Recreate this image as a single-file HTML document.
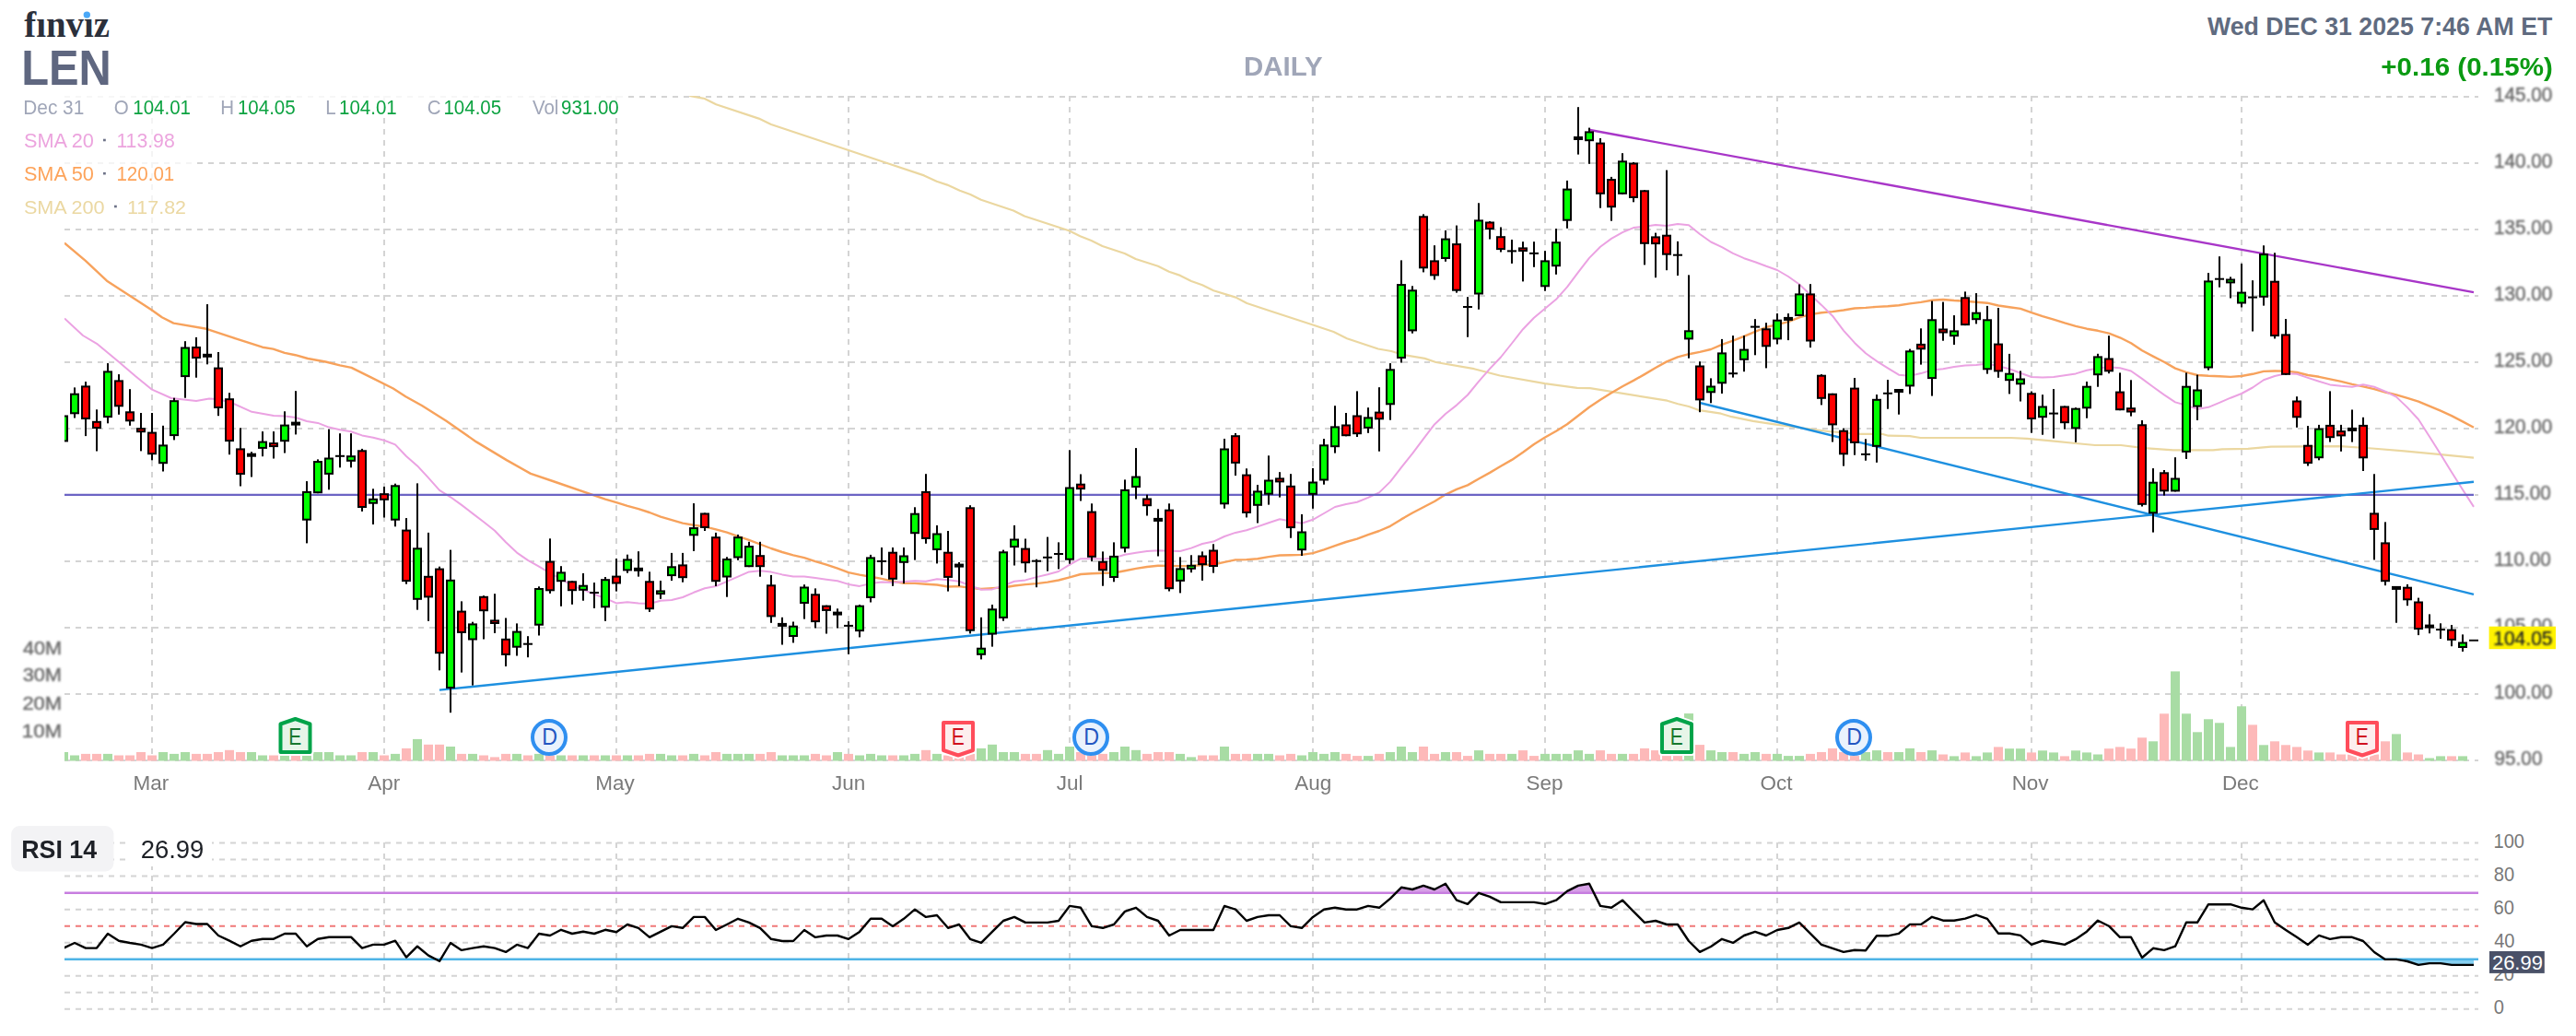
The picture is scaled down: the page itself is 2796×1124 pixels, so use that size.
<!DOCTYPE html><html><head><meta charset="utf-8"><style>html,body{margin:0;padding:0;background:#fff;overflow:hidden;width:2796px;height:1124px;}svg{display:block;}text{font-family:"Liberation Sans",sans-serif;}</style></head><body>
<svg width="2796" height="1124" viewBox="0 0 2796 1124">
<rect width="2796" height="1124" fill="#fff"/>
<defs><clipPath id="pc"><rect x="70" y="104" width="2620" height="722"/></clipPath><clipPath id="rc"><rect x="70" y="905" width="2620" height="200"/></clipPath></defs>
<line x1="70" y1="824.9" x2="2690" y2="824.9" stroke="#d4d4d4" stroke-width="2" stroke-dasharray="6 6"/>
<line x1="70" y1="752.9" x2="2690" y2="752.9" stroke="#d4d4d4" stroke-width="2" stroke-dasharray="6 6"/>
<line x1="70" y1="680.9" x2="2690" y2="680.9" stroke="#d4d4d4" stroke-width="2" stroke-dasharray="6 6"/>
<line x1="70" y1="608.9" x2="2690" y2="608.9" stroke="#d4d4d4" stroke-width="2" stroke-dasharray="6 6"/>
<line x1="70" y1="536.9" x2="2690" y2="536.9" stroke="#d4d4d4" stroke-width="2" stroke-dasharray="6 6"/>
<line x1="70" y1="464.9" x2="2690" y2="464.9" stroke="#d4d4d4" stroke-width="2" stroke-dasharray="6 6"/>
<line x1="70" y1="393.0" x2="2690" y2="393.0" stroke="#d4d4d4" stroke-width="2" stroke-dasharray="6 6"/>
<line x1="70" y1="321.0" x2="2690" y2="321.0" stroke="#d4d4d4" stroke-width="2" stroke-dasharray="6 6"/>
<line x1="70" y1="249.0" x2="2690" y2="249.0" stroke="#d4d4d4" stroke-width="2" stroke-dasharray="6 6"/>
<line x1="70" y1="177.0" x2="2690" y2="177.0" stroke="#d4d4d4" stroke-width="2" stroke-dasharray="6 6"/>
<line x1="70" y1="105.0" x2="2690" y2="105.0" stroke="#d4d4d4" stroke-width="2" stroke-dasharray="6 6"/>
<line x1="165" y1="104" x2="165" y2="826" stroke="#d4d4d4" stroke-width="2" stroke-dasharray="6 6"/>
<line x1="165" y1="914" x2="165" y2="1096" stroke="#d4d4d4" stroke-width="2" stroke-dasharray="6 6"/>
<line x1="417" y1="104" x2="417" y2="826" stroke="#d4d4d4" stroke-width="2" stroke-dasharray="6 6"/>
<line x1="417" y1="914" x2="417" y2="1096" stroke="#d4d4d4" stroke-width="2" stroke-dasharray="6 6"/>
<line x1="669" y1="104" x2="669" y2="826" stroke="#d4d4d4" stroke-width="2" stroke-dasharray="6 6"/>
<line x1="669" y1="914" x2="669" y2="1096" stroke="#d4d4d4" stroke-width="2" stroke-dasharray="6 6"/>
<line x1="921" y1="104" x2="921" y2="826" stroke="#d4d4d4" stroke-width="2" stroke-dasharray="6 6"/>
<line x1="921" y1="914" x2="921" y2="1096" stroke="#d4d4d4" stroke-width="2" stroke-dasharray="6 6"/>
<line x1="1161" y1="104" x2="1161" y2="826" stroke="#d4d4d4" stroke-width="2" stroke-dasharray="6 6"/>
<line x1="1161" y1="914" x2="1161" y2="1096" stroke="#d4d4d4" stroke-width="2" stroke-dasharray="6 6"/>
<line x1="1425" y1="104" x2="1425" y2="826" stroke="#d4d4d4" stroke-width="2" stroke-dasharray="6 6"/>
<line x1="1425" y1="914" x2="1425" y2="1096" stroke="#d4d4d4" stroke-width="2" stroke-dasharray="6 6"/>
<line x1="1677" y1="104" x2="1677" y2="826" stroke="#d4d4d4" stroke-width="2" stroke-dasharray="6 6"/>
<line x1="1677" y1="914" x2="1677" y2="1096" stroke="#d4d4d4" stroke-width="2" stroke-dasharray="6 6"/>
<line x1="1929" y1="104" x2="1929" y2="826" stroke="#d4d4d4" stroke-width="2" stroke-dasharray="6 6"/>
<line x1="1929" y1="914" x2="1929" y2="1096" stroke="#d4d4d4" stroke-width="2" stroke-dasharray="6 6"/>
<line x1="2205" y1="104" x2="2205" y2="826" stroke="#d4d4d4" stroke-width="2" stroke-dasharray="6 6"/>
<line x1="2205" y1="914" x2="2205" y2="1096" stroke="#d4d4d4" stroke-width="2" stroke-dasharray="6 6"/>
<line x1="2433" y1="104" x2="2433" y2="826" stroke="#d4d4d4" stroke-width="2" stroke-dasharray="6 6"/>
<line x1="2433" y1="914" x2="2433" y2="1096" stroke="#d4d4d4" stroke-width="2" stroke-dasharray="6 6"/>
<rect x="0" y="96" width="682" height="32" fill="#fff" fill-opacity="0.8"/>
<rect x="0" y="128" width="210" height="118" fill="#fff" fill-opacity="0.75"/>
<rect x="70.0" y="816.0" width="4.0" height="9.5" fill="#a8dca4"/>
<rect x="76.0" y="819.5" width="10.0" height="6.0" fill="#a8dca4"/>
<rect x="88.0" y="817.9" width="10.0" height="7.6" fill="#fdb9b9"/>
<rect x="100.0" y="817.9" width="10.0" height="7.6" fill="#fdb9b9"/>
<rect x="112.0" y="817.9" width="10.0" height="7.6" fill="#a8dca4"/>
<rect x="124.0" y="819.5" width="10.0" height="6.0" fill="#fdb9b9"/>
<rect x="136.0" y="819.5" width="10.0" height="6.0" fill="#fdb9b9"/>
<rect x="148.0" y="816.0" width="10.0" height="9.5" fill="#fdb9b9"/>
<rect x="160.0" y="819.5" width="10.0" height="6.0" fill="#fdb9b9"/>
<rect x="172.0" y="816.0" width="10.0" height="9.5" fill="#a8dca4"/>
<rect x="184.0" y="817.9" width="10.0" height="7.6" fill="#a8dca4"/>
<rect x="196.0" y="816.0" width="10.0" height="9.5" fill="#a8dca4"/>
<rect x="208.0" y="817.9" width="10.0" height="7.6" fill="#fdb9b9"/>
<rect x="220.0" y="817.9" width="10.0" height="7.6" fill="#fdb9b9"/>
<rect x="232.0" y="816.0" width="10.0" height="9.5" fill="#fdb9b9"/>
<rect x="244.0" y="813.8" width="10.0" height="11.7" fill="#fdb9b9"/>
<rect x="256.0" y="816.0" width="10.0" height="9.5" fill="#fdb9b9"/>
<rect x="268.0" y="816.0" width="10.0" height="9.5" fill="#a8dca4"/>
<rect x="280.0" y="819.5" width="10.0" height="6.0" fill="#a8dca4"/>
<rect x="292.0" y="819.5" width="10.0" height="6.0" fill="#fdb9b9"/>
<rect x="304.0" y="819.5" width="10.0" height="6.0" fill="#a8dca4"/>
<rect x="316.0" y="819.5" width="10.0" height="6.0" fill="#fdb9b9"/>
<rect x="328.0" y="819.5" width="10.0" height="6.0" fill="#a8dca4"/>
<rect x="340.0" y="816.0" width="10.0" height="9.5" fill="#a8dca4"/>
<rect x="352.0" y="816.0" width="10.0" height="9.5" fill="#a8dca4"/>
<rect x="364.0" y="819.5" width="10.0" height="6.0" fill="#a8dca4"/>
<rect x="376.0" y="819.5" width="10.0" height="6.0" fill="#a8dca4"/>
<rect x="388.0" y="816.0" width="10.0" height="9.5" fill="#fdb9b9"/>
<rect x="400.0" y="816.0" width="10.0" height="9.5" fill="#a8dca4"/>
<rect x="412.0" y="819.5" width="10.0" height="6.0" fill="#fdb9b9"/>
<rect x="424.0" y="817.9" width="10.0" height="7.6" fill="#a8dca4"/>
<rect x="436.0" y="811.9" width="10.0" height="13.6" fill="#fdb9b9"/>
<rect x="448.0" y="801.9" width="10.0" height="23.6" fill="#a8dca4"/>
<rect x="460.0" y="807.8" width="10.0" height="17.7" fill="#fdb9b9"/>
<rect x="472.0" y="807.8" width="10.0" height="17.7" fill="#fdb9b9"/>
<rect x="484.0" y="810.0" width="10.0" height="15.5" fill="#a8dca4"/>
<rect x="496.0" y="817.9" width="10.0" height="7.6" fill="#fdb9b9"/>
<rect x="508.0" y="817.9" width="10.0" height="7.6" fill="#a8dca4"/>
<rect x="520.0" y="819.5" width="10.0" height="6.0" fill="#fdb9b9"/>
<rect x="532.0" y="821.4" width="10.0" height="4.1" fill="#fdb9b9"/>
<rect x="544.0" y="817.9" width="10.0" height="7.6" fill="#fdb9b9"/>
<rect x="556.0" y="817.9" width="10.0" height="7.6" fill="#a8dca4"/>
<rect x="568.0" y="819.5" width="10.0" height="6.0" fill="#fdb9b9"/>
<rect x="580.0" y="817.9" width="10.0" height="7.6" fill="#a8dca4"/>
<rect x="592.0" y="819.5" width="10.0" height="6.0" fill="#fdb9b9"/>
<rect x="604.0" y="819.5" width="10.0" height="6.0" fill="#a8dca4"/>
<rect x="616.0" y="819.5" width="10.0" height="6.0" fill="#fdb9b9"/>
<rect x="628.0" y="819.5" width="10.0" height="6.0" fill="#a8dca4"/>
<rect x="640.0" y="819.5" width="10.0" height="6.0" fill="#fdb9b9"/>
<rect x="652.0" y="819.5" width="10.0" height="6.0" fill="#a8dca4"/>
<rect x="664.0" y="819.5" width="10.0" height="6.0" fill="#fdb9b9"/>
<rect x="676.0" y="819.5" width="10.0" height="6.0" fill="#a8dca4"/>
<rect x="688.0" y="819.5" width="10.0" height="6.0" fill="#fdb9b9"/>
<rect x="700.0" y="817.9" width="10.0" height="7.6" fill="#fdb9b9"/>
<rect x="712.0" y="817.9" width="10.0" height="7.6" fill="#a8dca4"/>
<rect x="724.0" y="819.5" width="10.0" height="6.0" fill="#a8dca4"/>
<rect x="736.0" y="819.5" width="10.0" height="6.0" fill="#fdb9b9"/>
<rect x="748.0" y="817.9" width="10.0" height="7.6" fill="#a8dca4"/>
<rect x="760.0" y="819.5" width="10.0" height="6.0" fill="#fdb9b9"/>
<rect x="772.0" y="816.0" width="10.0" height="9.5" fill="#fdb9b9"/>
<rect x="784.0" y="817.9" width="10.0" height="7.6" fill="#a8dca4"/>
<rect x="796.0" y="817.9" width="10.0" height="7.6" fill="#a8dca4"/>
<rect x="808.0" y="817.9" width="10.0" height="7.6" fill="#a8dca4"/>
<rect x="820.0" y="817.9" width="10.0" height="7.6" fill="#fdb9b9"/>
<rect x="832.0" y="816.0" width="10.0" height="9.5" fill="#fdb9b9"/>
<rect x="844.0" y="819.5" width="10.0" height="6.0" fill="#a8dca4"/>
<rect x="856.0" y="819.5" width="10.0" height="6.0" fill="#a8dca4"/>
<rect x="868.0" y="819.5" width="10.0" height="6.0" fill="#a8dca4"/>
<rect x="880.0" y="817.9" width="10.0" height="7.6" fill="#fdb9b9"/>
<rect x="892.0" y="819.5" width="10.0" height="6.0" fill="#fdb9b9"/>
<rect x="904.0" y="816.0" width="10.0" height="9.5" fill="#a8dca4"/>
<rect x="916.0" y="817.9" width="10.0" height="7.6" fill="#fdb9b9"/>
<rect x="928.0" y="819.5" width="10.0" height="6.0" fill="#a8dca4"/>
<rect x="940.0" y="817.9" width="10.0" height="7.6" fill="#a8dca4"/>
<rect x="952.0" y="819.5" width="10.0" height="6.0" fill="#a8dca4"/>
<rect x="964.0" y="819.5" width="10.0" height="6.0" fill="#fdb9b9"/>
<rect x="976.0" y="819.5" width="10.0" height="6.0" fill="#a8dca4"/>
<rect x="988.0" y="817.9" width="10.0" height="7.6" fill="#a8dca4"/>
<rect x="1000.0" y="813.8" width="10.0" height="11.7" fill="#fdb9b9"/>
<rect x="1012.0" y="817.9" width="10.0" height="7.6" fill="#a8dca4"/>
<rect x="1024.0" y="819.5" width="10.0" height="6.0" fill="#fdb9b9"/>
<rect x="1036.0" y="819.5" width="10.0" height="6.0" fill="#fdb9b9"/>
<rect x="1048.0" y="817.9" width="10.0" height="7.6" fill="#fdb9b9"/>
<rect x="1060.0" y="811.9" width="10.0" height="13.6" fill="#a8dca4"/>
<rect x="1072.0" y="807.8" width="10.0" height="17.7" fill="#a8dca4"/>
<rect x="1084.0" y="816.0" width="10.0" height="9.5" fill="#a8dca4"/>
<rect x="1096.0" y="816.0" width="10.0" height="9.5" fill="#a8dca4"/>
<rect x="1108.0" y="817.9" width="10.0" height="7.6" fill="#fdb9b9"/>
<rect x="1120.0" y="817.9" width="10.0" height="7.6" fill="#fdb9b9"/>
<rect x="1132.0" y="813.8" width="10.0" height="11.7" fill="#a8dca4"/>
<rect x="1144.0" y="817.9" width="10.0" height="7.6" fill="#a8dca4"/>
<rect x="1156.0" y="810.0" width="10.0" height="15.5" fill="#a8dca4"/>
<rect x="1168.0" y="816.0" width="10.0" height="9.5" fill="#fdb9b9"/>
<rect x="1180.0" y="817.9" width="10.0" height="7.6" fill="#fdb9b9"/>
<rect x="1192.0" y="817.9" width="10.0" height="7.6" fill="#fdb9b9"/>
<rect x="1204.0" y="816.0" width="10.0" height="9.5" fill="#a8dca4"/>
<rect x="1216.0" y="810.0" width="10.0" height="15.5" fill="#a8dca4"/>
<rect x="1228.0" y="813.8" width="10.0" height="11.7" fill="#a8dca4"/>
<rect x="1240.0" y="817.9" width="10.0" height="7.6" fill="#fdb9b9"/>
<rect x="1252.0" y="816.0" width="10.0" height="9.5" fill="#fdb9b9"/>
<rect x="1264.0" y="816.0" width="10.0" height="9.5" fill="#fdb9b9"/>
<rect x="1276.0" y="817.9" width="10.0" height="7.6" fill="#a8dca4"/>
<rect x="1288.0" y="821.4" width="10.0" height="4.1" fill="#a8dca4"/>
<rect x="1300.0" y="819.5" width="10.0" height="6.0" fill="#fdb9b9"/>
<rect x="1312.0" y="819.5" width="10.0" height="6.0" fill="#fdb9b9"/>
<rect x="1324.0" y="810.0" width="10.0" height="15.5" fill="#a8dca4"/>
<rect x="1336.0" y="817.9" width="10.0" height="7.6" fill="#fdb9b9"/>
<rect x="1348.0" y="817.9" width="10.0" height="7.6" fill="#fdb9b9"/>
<rect x="1360.0" y="817.9" width="10.0" height="7.6" fill="#a8dca4"/>
<rect x="1372.0" y="817.9" width="10.0" height="7.6" fill="#a8dca4"/>
<rect x="1384.0" y="819.5" width="10.0" height="6.0" fill="#fdb9b9"/>
<rect x="1396.0" y="817.9" width="10.0" height="7.6" fill="#fdb9b9"/>
<rect x="1408.0" y="819.5" width="10.0" height="6.0" fill="#a8dca4"/>
<rect x="1420.0" y="816.0" width="10.0" height="9.5" fill="#a8dca4"/>
<rect x="1432.0" y="817.9" width="10.0" height="7.6" fill="#a8dca4"/>
<rect x="1444.0" y="816.0" width="10.0" height="9.5" fill="#a8dca4"/>
<rect x="1456.0" y="817.9" width="10.0" height="7.6" fill="#fdb9b9"/>
<rect x="1468.0" y="820.1" width="10.0" height="5.4" fill="#fdb9b9"/>
<rect x="1480.0" y="820.1" width="10.0" height="5.4" fill="#a8dca4"/>
<rect x="1492.0" y="817.9" width="10.0" height="7.6" fill="#fdb9b9"/>
<rect x="1504.0" y="816.0" width="10.0" height="9.5" fill="#a8dca4"/>
<rect x="1516.0" y="810.0" width="10.0" height="15.5" fill="#a8dca4"/>
<rect x="1528.0" y="816.0" width="10.0" height="9.5" fill="#a8dca4"/>
<rect x="1540.0" y="810.0" width="10.0" height="15.5" fill="#fdb9b9"/>
<rect x="1552.0" y="817.9" width="10.0" height="7.6" fill="#fdb9b9"/>
<rect x="1564.0" y="816.0" width="10.0" height="9.5" fill="#a8dca4"/>
<rect x="1576.0" y="816.0" width="10.0" height="9.5" fill="#fdb9b9"/>
<rect x="1588.0" y="820.1" width="10.0" height="5.4" fill="#fdb9b9"/>
<rect x="1600.0" y="814.1" width="10.0" height="11.4" fill="#a8dca4"/>
<rect x="1612.0" y="817.9" width="10.0" height="7.6" fill="#fdb9b9"/>
<rect x="1624.0" y="817.9" width="10.0" height="7.6" fill="#fdb9b9"/>
<rect x="1636.0" y="817.9" width="10.0" height="7.6" fill="#a8dca4"/>
<rect x="1648.0" y="814.1" width="10.0" height="11.4" fill="#fdb9b9"/>
<rect x="1660.0" y="820.1" width="10.0" height="5.4" fill="#fdb9b9"/>
<rect x="1672.0" y="817.9" width="10.0" height="7.6" fill="#a8dca4"/>
<rect x="1684.0" y="817.9" width="10.0" height="7.6" fill="#a8dca4"/>
<rect x="1696.0" y="817.9" width="10.0" height="7.6" fill="#a8dca4"/>
<rect x="1708.0" y="814.1" width="10.0" height="11.4" fill="#a8dca4"/>
<rect x="1720.0" y="817.9" width="10.0" height="7.6" fill="#a8dca4"/>
<rect x="1732.0" y="814.1" width="10.0" height="11.4" fill="#fdb9b9"/>
<rect x="1744.0" y="817.9" width="10.0" height="7.6" fill="#fdb9b9"/>
<rect x="1756.0" y="817.9" width="10.0" height="7.6" fill="#a8dca4"/>
<rect x="1768.0" y="817.9" width="10.0" height="7.6" fill="#fdb9b9"/>
<rect x="1780.0" y="811.9" width="10.0" height="13.6" fill="#fdb9b9"/>
<rect x="1792.0" y="814.1" width="10.0" height="11.4" fill="#fdb9b9"/>
<rect x="1804.0" y="820.1" width="10.0" height="5.4" fill="#fdb9b9"/>
<rect x="1816.0" y="820.1" width="10.0" height="5.4" fill="#fdb9b9"/>
<rect x="1828.0" y="774.1" width="10.0" height="51.4" fill="#a8dca4"/>
<rect x="1840.0" y="808.1" width="10.0" height="17.4" fill="#fdb9b9"/>
<rect x="1852.0" y="814.1" width="10.0" height="11.4" fill="#a8dca4"/>
<rect x="1864.0" y="816.0" width="10.0" height="9.5" fill="#a8dca4"/>
<rect x="1876.0" y="816.0" width="10.0" height="9.5" fill="#fdb9b9"/>
<rect x="1888.0" y="817.9" width="10.0" height="7.6" fill="#a8dca4"/>
<rect x="1900.0" y="816.0" width="10.0" height="9.5" fill="#a8dca4"/>
<rect x="1912.0" y="817.9" width="10.0" height="7.6" fill="#fdb9b9"/>
<rect x="1924.0" y="817.9" width="10.0" height="7.6" fill="#a8dca4"/>
<rect x="1936.0" y="820.1" width="10.0" height="5.4" fill="#a8dca4"/>
<rect x="1948.0" y="820.1" width="10.0" height="5.4" fill="#a8dca4"/>
<rect x="1960.0" y="817.9" width="10.0" height="7.6" fill="#fdb9b9"/>
<rect x="1972.0" y="816.0" width="10.0" height="9.5" fill="#fdb9b9"/>
<rect x="1984.0" y="811.9" width="10.0" height="13.6" fill="#fdb9b9"/>
<rect x="1996.0" y="816.0" width="10.0" height="9.5" fill="#fdb9b9"/>
<rect x="2008.0" y="820.1" width="10.0" height="5.4" fill="#fdb9b9"/>
<rect x="2020.0" y="816.0" width="10.0" height="9.5" fill="#a8dca4"/>
<rect x="2032.0" y="814.1" width="10.0" height="11.4" fill="#a8dca4"/>
<rect x="2044.0" y="816.0" width="10.0" height="9.5" fill="#fdb9b9"/>
<rect x="2056.0" y="816.0" width="10.0" height="9.5" fill="#a8dca4"/>
<rect x="2068.0" y="811.9" width="10.0" height="13.6" fill="#a8dca4"/>
<rect x="2080.0" y="816.0" width="10.0" height="9.5" fill="#fdb9b9"/>
<rect x="2092.0" y="814.1" width="10.0" height="11.4" fill="#a8dca4"/>
<rect x="2104.0" y="818.5" width="10.0" height="7.0" fill="#fdb9b9"/>
<rect x="2116.0" y="820.4" width="10.0" height="5.1" fill="#a8dca4"/>
<rect x="2128.0" y="816.4" width="10.0" height="9.1" fill="#fdb9b9"/>
<rect x="2140.0" y="820.4" width="10.0" height="5.1" fill="#a8dca4"/>
<rect x="2152.0" y="816.4" width="10.0" height="9.1" fill="#a8dca4"/>
<rect x="2164.0" y="810.4" width="10.0" height="15.1" fill="#fdb9b9"/>
<rect x="2176.0" y="812.2" width="10.0" height="13.3" fill="#a8dca4"/>
<rect x="2188.0" y="812.2" width="10.0" height="13.3" fill="#a8dca4"/>
<rect x="2200.0" y="816.4" width="10.0" height="9.1" fill="#fdb9b9"/>
<rect x="2212.0" y="814.3" width="10.0" height="11.2" fill="#a8dca4"/>
<rect x="2224.0" y="816.4" width="10.0" height="9.1" fill="#a8dca4"/>
<rect x="2236.0" y="820.4" width="10.0" height="5.1" fill="#fdb9b9"/>
<rect x="2248.0" y="814.3" width="10.0" height="11.2" fill="#a8dca4"/>
<rect x="2260.0" y="816.4" width="10.0" height="9.1" fill="#a8dca4"/>
<rect x="2272.0" y="818.5" width="10.0" height="7.0" fill="#a8dca4"/>
<rect x="2284.0" y="812.2" width="10.0" height="13.3" fill="#fdb9b9"/>
<rect x="2296.0" y="810.4" width="10.0" height="15.1" fill="#fdb9b9"/>
<rect x="2308.0" y="812.2" width="10.0" height="13.3" fill="#fdb9b9"/>
<rect x="2320.0" y="800.3" width="10.0" height="25.2" fill="#fdb9b9"/>
<rect x="2332.0" y="804.3" width="10.0" height="21.2" fill="#a8dca4"/>
<rect x="2344.0" y="774.3" width="10.0" height="51.2" fill="#fdb9b9"/>
<rect x="2356.0" y="728.4" width="10.0" height="97.1" fill="#a8dca4"/>
<rect x="2368.0" y="774.3" width="10.0" height="51.2" fill="#a8dca4"/>
<rect x="2380.0" y="794.3" width="10.0" height="31.2" fill="#a8dca4"/>
<rect x="2392.0" y="780.3" width="10.0" height="45.2" fill="#a8dca4"/>
<rect x="2404.0" y="784.3" width="10.0" height="41.2" fill="#a8dca4"/>
<rect x="2416.0" y="810.4" width="10.0" height="15.1" fill="#a8dca4"/>
<rect x="2428.0" y="766.3" width="10.0" height="59.2" fill="#a8dca4"/>
<rect x="2440.0" y="786.4" width="10.0" height="39.1" fill="#fdb9b9"/>
<rect x="2452.0" y="808.3" width="10.0" height="17.2" fill="#a8dca4"/>
<rect x="2464.0" y="804.3" width="10.0" height="21.2" fill="#fdb9b9"/>
<rect x="2476.0" y="808.3" width="10.0" height="17.2" fill="#fdb9b9"/>
<rect x="2488.0" y="810.4" width="10.0" height="15.1" fill="#fdb9b9"/>
<rect x="2500.0" y="814.3" width="10.0" height="11.2" fill="#fdb9b9"/>
<rect x="2512.0" y="816.4" width="10.0" height="9.1" fill="#a8dca4"/>
<rect x="2524.0" y="816.4" width="10.0" height="9.1" fill="#fdb9b9"/>
<rect x="2536.0" y="818.5" width="10.0" height="7.0" fill="#fdb9b9"/>
<rect x="2548.0" y="818.5" width="10.0" height="7.0" fill="#fdb9b9"/>
<rect x="2560.0" y="818.5" width="10.0" height="7.0" fill="#fdb9b9"/>
<rect x="2572.0" y="818.5" width="10.0" height="7.0" fill="#fdb9b9"/>
<rect x="2584.0" y="804.3" width="10.0" height="21.2" fill="#fdb9b9"/>
<rect x="2596.0" y="796.4" width="10.0" height="29.1" fill="#a8dca4"/>
<rect x="2608.0" y="816.4" width="10.0" height="9.1" fill="#fdb9b9"/>
<rect x="2620.0" y="818.5" width="10.0" height="7.0" fill="#fdb9b9"/>
<rect x="2632.0" y="822.5" width="10.0" height="3.0" fill="#a8dca4"/>
<rect x="2644.0" y="820.4" width="10.0" height="5.1" fill="#a8dca4"/>
<rect x="2656.0" y="820.4" width="10.0" height="5.1" fill="#fdb9b9"/>
<rect x="2668.0" y="820.4" width="10.0" height="5.1" fill="#a8dca4"/>
<g clip-path="url(#pc)">
<path d="M748.3 103.9 L764.7 107.0 L777.2 113.2 L823.6 128.6 L837.0 135.0 L921.0 163.0 L960.6 176.3 L1003.0 190.4 L1016.6 196.8 L1028.2 200.6 L1041.7 206.8 L1053.3 211.0 L1064.8 216.8 L1100.0 228.5 L1112.0 234.5 L1160.3 250.2 L1172.4 256.2 L1184.5 261.0 L1196.5 267.0 L1220.7 275.0 L1232.7 281.0 L1256.9 288.8 L1268.9 294.8 L1281.0 298.9 L1293.0 305.0 L1305.0 309.3 L1317.2 315.3 L1341.3 322.6 L1353.4 329.0 L1377.5 337.0 L1425.8 352.7 L1447.5 360.0 L1462.0 367.2 L1495.8 378.5 L1510.2 381.0 L1522.3 384.8 L1546.4 388.9 L1558.5 393.0 L1600.0 400.2 L1628.0 407.5 L1676.9 416.1 L1711.8 420.8 L1725.8 421.2 L1809.6 434.7 L1821.3 438.2 L1833.0 441.0 L1844.6 445.2 L1867.9 448.7 L1879.5 452.2 L1902.8 456.9 L1926.1 460.4 L1961.0 465.0 L1984.3 468.0 L2019.3 470.8 L2042.6 470.8 L2049.6 472.7 L2072.9 473.2 L2084.5 475.0 L2182.4 475.0 L2200.0 475.8 L2232.0 478.8 L2253.0 481.0 L2274.0 483.0 L2302.0 483.0 L2327.0 486.2 L2359.0 488.3 L2402.0 488.3 L2412.0 487.3 L2440.0 486.8 L2465.0 484.7 L2540.0 484.2 L2574.7 486.5 L2609.5 489.3 L2644.0 492.7 L2685.0 496.7" fill="none" stroke="#ebd7a0" stroke-width="2.2" stroke-linejoin="round"/>
<path d="M70.0 263.6 L92.8 282.9 L116.0 304.7 L141.1 321.1 L164.2 336.0 L175.8 344.2 L188.4 350.6 L224.1 356.8 L253.0 366.4 L284.9 376.7 L296.5 378.6 L309.0 382.9 L320.6 385.2 L334.1 389.0 L353.4 392.5 L368.9 396.4 L381.4 398.9 L403.6 409.9 L426.8 421.5 L440.3 430.2 L457.9 440.0 L484.1 456.4 L517.0 479.4 L549.8 499.1 L576.0 513.9 L600.0 522.0 L657.0 541.6 L669.0 545.2 L681.0 548.8 L693.0 552.1 L705.0 556.0 L717.0 560.7 L729.0 564.2 L741.0 567.6 L753.0 569.7 L765.0 571.3 L777.0 574.3 L789.0 577.7 L801.0 581.8 L813.0 585.9 L825.0 590.5 L837.0 595.0 L849.0 599.0 L861.0 602.3 L873.0 605.2 L885.0 609.1 L897.0 612.7 L909.0 616.7 L921.0 621.1 L933.0 623.6 L945.0 625.7 L957.0 627.9 L969.0 630.6 L981.0 632.7 L993.0 632.9 L1005.0 633.7 L1017.0 634.5 L1029.0 636.5 L1041.0 636.1 L1053.0 637.9 L1065.0 639.0 L1077.0 638.1 L1089.0 637.5 L1101.0 635.5 L1113.0 634.1 L1125.0 633.1 L1137.0 631.6 L1149.0 629.5 L1161.0 626.3 L1173.0 623.0 L1185.0 622.3 L1197.0 621.8 L1209.0 621.5 L1221.0 619.3 L1233.0 616.9 L1245.0 615.0 L1257.0 613.7 L1269.0 613.9 L1281.0 614.1 L1293.0 614.0 L1305.0 613.0 L1317.0 612.5 L1329.0 609.9 L1341.0 607.4 L1353.0 607.1 L1365.0 606.3 L1377.0 604.1 L1389.0 602.5 L1401.0 602.2 L1413.0 601.9 L1425.0 600.1 L1437.0 596.4 L1449.0 592.1 L1461.0 588.0 L1473.0 584.6 L1485.0 580.2 L1497.0 576.0 L1509.0 570.8 L1521.0 563.4 L1533.0 556.5 L1545.0 550.2 L1557.0 544.0 L1569.0 536.6 L1581.0 530.9 L1593.0 526.4 L1605.0 519.5 L1617.0 512.9 L1629.0 505.7 L1641.0 498.9 L1653.0 490.7 L1665.0 482.1 L1677.0 474.5 L1689.0 467.8 L1701.0 460.2 L1713.0 451.0 L1725.0 441.7 L1737.0 433.8 L1749.0 426.3 L1761.0 419.2 L1773.0 412.9 L1785.0 406.1 L1797.0 399.0 L1809.0 392.4 L1821.0 387.3 L1833.0 384.2 L1845.0 381.9 L1857.0 379.0 L1869.0 373.9 L1881.0 369.6 L1893.0 364.9 L1905.0 359.8 L1917.0 355.0 L1929.0 352.2 L1941.0 349.1 L1953.0 344.4 L1965.0 341.1 L1977.0 339.3 L1989.0 338.1 L2001.0 336.5 L2013.0 334.5 L2025.0 333.9 L2037.0 332.9 L2049.0 332.2 L2061.0 331.2 L2073.0 329.4 L2085.0 327.9 L2097.0 325.8 L2109.0 325.0 L2121.0 326.0 L2133.0 326.7 L2145.0 327.7 L2157.0 328.7 L2169.0 331.5 L2181.0 333.3 L2193.0 334.9 L2205.0 339.2 L2217.0 343.1 L2229.0 346.6 L2241.0 350.4 L2253.0 353.8 L2265.0 356.7 L2277.0 358.8 L2289.0 361.6 L2301.0 366.3 L2313.0 372.3 L2325.0 380.3 L2337.0 386.6 L2349.0 392.8 L2361.0 399.6 L2373.0 403.8 L2385.0 407.0 L2397.0 407.8 L2409.0 408.3 L2421.0 408.9 L2433.0 408.0 L2445.0 405.8 L2457.0 402.9 L2469.0 402.5 L2481.0 402.6 L2493.0 404.0 L2505.0 407.0 L2517.0 408.8 L2529.0 411.3 L2541.0 413.8 L2553.0 416.8 L2565.0 419.3 L2577.0 422.1 L2589.0 425.5 L2601.0 428.4 L2613.0 431.9 L2625.0 435.6 L2637.0 440.6 L2649.0 445.7 L2661.0 451.1 L2673.0 457.4 L2685.0 463.7" fill="none" stroke="#f7a25c" stroke-width="2.4" stroke-linejoin="round"/>
<path d="M70.0 345.5 L90.0 364.0 L105.0 372.8 L127.6 391.5 L146.9 408.0 L165.0 422.7 L186.0 432.0 L213.0 435.0 L227.0 432.4 L236.0 433.0 L250.7 436.7 L273.3 446.8 L297.0 450.9 L309.0 451.4 L321.0 453.0 L333.0 457.0 L345.0 458.9 L357.0 463.6 L369.0 466.3 L381.0 468.3 L393.0 472.4 L405.0 474.8 L417.0 477.8 L429.0 482.4 L441.0 495.0 L453.0 505.4 L465.0 518.4 L477.0 531.8 L489.0 539.3 L501.0 547.9 L513.0 557.1 L525.0 566.2 L537.0 575.8 L549.0 588.3 L561.0 599.6 L573.0 607.8 L585.0 614.7 L597.0 621.8 L609.0 628.2 L621.0 635.4 L633.0 639.7 L645.0 644.8 L657.0 649.1 L669.0 654.4 L681.0 653.3 L693.0 654.4 L705.0 655.0 L717.0 651.7 L729.0 651.0 L741.0 648.0 L753.0 642.8 L765.0 638.2 L777.0 636.0 L789.0 630.8 L801.0 625.7 L813.0 620.4 L825.0 619.2 L837.0 620.6 L849.0 623.4 L861.0 625.4 L873.0 625.5 L885.0 627.0 L897.0 628.7 L909.0 630.3 L921.0 633.9 L933.0 635.9 L945.0 633.1 L957.0 631.5 L969.0 632.1 L981.0 631.0 L993.0 630.2 L1005.0 630.8 L1017.0 628.3 L1029.0 629.2 L1041.0 630.8 L1053.0 635.3 L1065.0 639.8 L1077.0 639.4 L1089.0 635.5 L1101.0 630.8 L1113.0 629.4 L1125.0 626.1 L1137.0 623.3 L1149.0 620.0 L1161.0 612.6 L1173.0 606.2 L1185.0 606.1 L1197.0 606.6 L1209.0 605.4 L1221.0 601.8 L1233.0 599.8 L1245.0 598.0 L1257.0 597.2 L1269.0 597.8 L1281.0 598.0 L1293.0 594.6 L1305.0 590.0 L1317.0 587.6 L1329.0 582.0 L1341.0 577.9 L1353.0 575.2 L1365.0 571.4 L1377.0 567.2 L1389.0 563.3 L1401.0 565.4 L1413.0 567.8 L1425.0 563.8 L1437.0 557.0 L1449.0 550.0 L1461.0 547.0 L1473.0 544.7 L1485.0 539.9 L1497.0 534.4 L1509.0 522.6 L1521.0 507.2 L1533.0 492.2 L1545.0 476.1 L1557.0 460.4 L1569.0 449.0 L1581.0 439.6 L1593.0 428.5 L1605.0 413.8 L1617.0 400.1 L1629.0 387.5 L1641.0 372.5 L1653.0 357.2 L1665.0 344.8 L1677.0 334.8 L1689.0 324.8 L1701.0 311.4 L1713.0 295.4 L1725.0 279.9 L1737.0 267.7 L1749.0 258.9 L1761.0 252.2 L1773.0 247.1 L1785.0 245.8 L1797.0 244.1 L1809.0 244.9 L1821.0 243.0 L1833.0 244.3 L1845.0 254.0 L1857.0 262.5 L1869.0 268.2 L1881.0 274.8 L1893.0 280.2 L1905.0 284.2 L1917.0 288.8 L1929.0 293.0 L1941.0 300.0 L1953.0 308.5 L1965.0 319.8 L1977.0 330.9 L1989.0 342.7 L2001.0 358.6 L2013.0 371.9 L2025.0 383.3 L2037.0 391.8 L2049.0 399.4 L2061.0 406.7 L2073.0 407.8 L2085.0 405.1 L2097.0 401.5 L2109.0 400.3 L2121.0 398.0 L2133.0 396.6 L2145.0 395.9 L2157.0 394.5 L2169.0 397.2 L2181.0 400.2 L2193.0 404.8 L2205.0 409.0 L2217.0 409.5 L2229.0 408.9 L2241.0 407.2 L2253.0 405.4 L2265.0 401.8 L2277.0 399.4 L2289.0 398.2 L2301.0 399.2 L2313.0 402.5 L2325.0 410.9 L2337.0 419.7 L2349.0 428.4 L2361.0 436.4 L2373.0 439.7 L2385.0 443.9 L2397.0 441.8 L2409.0 436.8 L2421.0 431.7 L2433.0 427.0 L2445.0 420.5 L2457.0 412.2 L2469.0 408.0 L2481.0 405.3 L2493.0 405.8 L2505.0 409.9 L2517.0 413.8 L2529.0 417.4 L2541.0 418.8 L2553.0 419.8 L2565.0 417.3 L2577.0 419.8 L2589.0 424.7 L2601.0 430.6 L2613.0 442.1 L2625.0 455.0 L2637.0 473.7 L2649.0 492.8 L2661.0 512.3 L2673.0 531.3 L2685.0 549.9" fill="none" stroke="#eba2e2" stroke-width="2.0" stroke-linejoin="round"/>
<line x1="70" y1="536.9" x2="2685" y2="536.9" stroke="#6c64c4" stroke-width="2.2"/>
<line x1="477" y1="748.6" x2="2685" y2="522.8" stroke="#1e90e0" stroke-width="2.4"/>
<line x1="1844.8" y1="437" x2="2685" y2="644.9" stroke="#1e90e0" stroke-width="2.4"/>
<line x1="1725.7" y1="141" x2="2685" y2="317.1" stroke="#a836c8" stroke-width="2.4"/>
<rect x="68" y="450.5" width="2" height="28.9" fill="#000"/>
<rect x="65" y="451.5" width="8" height="26.9" fill="#00ff00" stroke="#000" stroke-width="2"/>
<rect x="80" y="420.4" width="2" height="33.1" fill="#000"/>
<rect x="77" y="427.7" width="8" height="20.6" fill="#00ff00" stroke="#000" stroke-width="2"/>
<rect x="92" y="414.1" width="2" height="59.0" fill="#000"/>
<rect x="89" y="419.4" width="8" height="34.6" fill="#ff0000" stroke="#000" stroke-width="2"/>
<rect x="104" y="444.3" width="2" height="45.2" fill="#000"/>
<rect x="101" y="457.8" width="8" height="6.3" fill="#ff0000" stroke="#000" stroke-width="2"/>
<rect x="116" y="394.1" width="2" height="65.2" fill="#000"/>
<rect x="113" y="403.4" width="8" height="48.7" fill="#00ff00" stroke="#000" stroke-width="2"/>
<rect x="128" y="406.1" width="2" height="43.7" fill="#000"/>
<rect x="125" y="413.4" width="8" height="26.9" fill="#ff0000" stroke="#000" stroke-width="2"/>
<rect x="140" y="422.2" width="2" height="39.6" fill="#000"/>
<rect x="137" y="447.3" width="8" height="9.0" fill="#ff0000" stroke="#000" stroke-width="2"/>
<rect x="152" y="448.0" width="2" height="41.4" fill="#000"/>
<rect x="149" y="465.2" width="8" height="3.0" fill="#ff0000" stroke="#000" stroke-width="2"/>
<rect x="164" y="448.0" width="2" height="51.4" fill="#000"/>
<rect x="161" y="469.6" width="8" height="22.6" fill="#ff0000" stroke="#000" stroke-width="2"/>
<rect x="176" y="461.8" width="2" height="49.7" fill="#000"/>
<rect x="173" y="483.4" width="8" height="18.8" fill="#00ff00" stroke="#000" stroke-width="2"/>
<rect x="188" y="431.7" width="2" height="45.7" fill="#000"/>
<rect x="185" y="435.2" width="8" height="36.9" fill="#00ff00" stroke="#000" stroke-width="2"/>
<rect x="200" y="370.2" width="2" height="61.5" fill="#000"/>
<rect x="197" y="377.5" width="8" height="30.6" fill="#00ff00" stroke="#000" stroke-width="2"/>
<rect x="212" y="366.0" width="2" height="43.7" fill="#000"/>
<rect x="209" y="377.0" width="8" height="11.0" fill="#ff0000" stroke="#000" stroke-width="2"/>
<rect x="224" y="330.1" width="2" height="65.2" fill="#000"/>
<rect x="220" y="383.8" width="10" height="4" fill="#000"/>
<rect x="236" y="382.0" width="2" height="69.2" fill="#000"/>
<rect x="233" y="399.6" width="8" height="42.4" fill="#ff0000" stroke="#000" stroke-width="2"/>
<rect x="248" y="426.2" width="2" height="67.0" fill="#000"/>
<rect x="245" y="433.2" width="8" height="44.9" fill="#ff0000" stroke="#000" stroke-width="2"/>
<rect x="260" y="464.3" width="2" height="63.2" fill="#000"/>
<rect x="257" y="487.4" width="8" height="26.6" fill="#ff0000" stroke="#000" stroke-width="2"/>
<rect x="272" y="490.2" width="2" height="27.3" fill="#000"/>
<rect x="268" y="491.7" width="10" height="4" fill="#000"/>
<rect x="284" y="468.1" width="2" height="27.1" fill="#000"/>
<rect x="281" y="479.6" width="8" height="6.3" fill="#00ff00" stroke="#000" stroke-width="2"/>
<rect x="296" y="468.1" width="2" height="29.4" fill="#000"/>
<rect x="293" y="481.1" width="8" height="3.0" fill="#ff0000" stroke="#000" stroke-width="2"/>
<rect x="308" y="446.3" width="2" height="45.2" fill="#000"/>
<rect x="305" y="461.6" width="8" height="16.6" fill="#00ff00" stroke="#000" stroke-width="2"/>
<rect x="320" y="424.2" width="2" height="47.2" fill="#000"/>
<rect x="316" y="457.6" width="10" height="4" fill="#000"/>
<rect x="332" y="522.1" width="2" height="67.3" fill="#000"/>
<rect x="329" y="533.9" width="8" height="29.8" fill="#00ff00" stroke="#000" stroke-width="2"/>
<rect x="344" y="498.4" width="2" height="36.8" fill="#000"/>
<rect x="341" y="501.1" width="8" height="33.1" fill="#00ff00" stroke="#000" stroke-width="2"/>
<rect x="356" y="465.6" width="2" height="65.7" fill="#000"/>
<rect x="353" y="497.5" width="8" height="16.4" fill="#00ff00" stroke="#000" stroke-width="2"/>
<rect x="368" y="470.2" width="2" height="37.1" fill="#000"/>
<rect x="364" y="493.8" width="10" height="2" fill="#000"/>
<rect x="380" y="470.2" width="2" height="37.1" fill="#000"/>
<rect x="377" y="495.2" width="8" height="4.6" fill="#00ff00" stroke="#000" stroke-width="2"/>
<rect x="392" y="486.9" width="2" height="68.0" fill="#000"/>
<rect x="389" y="489.3" width="8" height="60.7" fill="#ff0000" stroke="#000" stroke-width="2"/>
<rect x="404" y="530.3" width="2" height="38.7" fill="#000"/>
<rect x="401" y="541.8" width="8" height="3.9" fill="#00ff00" stroke="#000" stroke-width="2"/>
<rect x="416" y="528.0" width="2" height="33.5" fill="#000"/>
<rect x="413" y="536.2" width="8" height="5.6" fill="#ff0000" stroke="#000" stroke-width="2"/>
<rect x="428" y="524.7" width="2" height="46.6" fill="#000"/>
<rect x="425" y="527.3" width="8" height="36.4" fill="#00ff00" stroke="#000" stroke-width="2"/>
<rect x="440" y="562.1" width="2" height="71.6" fill="#000"/>
<rect x="437" y="575.6" width="8" height="54.5" fill="#ff0000" stroke="#000" stroke-width="2"/>
<rect x="452" y="524.4" width="2" height="137.2" fill="#000"/>
<rect x="449" y="595.3" width="8" height="54.5" fill="#00ff00" stroke="#000" stroke-width="2"/>
<rect x="464" y="577.9" width="2" height="95.9" fill="#000"/>
<rect x="461" y="625.8" width="8" height="21.6" fill="#ff0000" stroke="#000" stroke-width="2"/>
<rect x="476" y="614.7" width="2" height="112.6" fill="#000"/>
<rect x="473" y="617.6" width="8" height="90.6" fill="#ff0000" stroke="#000" stroke-width="2"/>
<rect x="488" y="596.6" width="2" height="176.6" fill="#000"/>
<rect x="485" y="629.8" width="8" height="116.2" fill="#00ff00" stroke="#000" stroke-width="2"/>
<rect x="500" y="652.4" width="2" height="77.2" fill="#000"/>
<rect x="497" y="663.6" width="8" height="22.3" fill="#ff0000" stroke="#000" stroke-width="2"/>
<rect x="512" y="674.7" width="2" height="68.9" fill="#000"/>
<rect x="509" y="677.4" width="8" height="16.1" fill="#00ff00" stroke="#000" stroke-width="2"/>
<rect x="524" y="646.2" width="2" height="47.3" fill="#000"/>
<rect x="521" y="647.8" width="8" height="14.4" fill="#ff0000" stroke="#000" stroke-width="2"/>
<rect x="536" y="644.2" width="2" height="42.7" fill="#000"/>
<rect x="533" y="673.4" width="8" height="2.6" fill="#ff0000" stroke="#000" stroke-width="2"/>
<rect x="548" y="670.5" width="2" height="52.5" fill="#000"/>
<rect x="545" y="693.8" width="8" height="16.1" fill="#ff0000" stroke="#000" stroke-width="2"/>
<rect x="560" y="676.4" width="2" height="35.1" fill="#000"/>
<rect x="557" y="685.6" width="8" height="16.1" fill="#00ff00" stroke="#000" stroke-width="2"/>
<rect x="572" y="690.2" width="2" height="23.0" fill="#000"/>
<rect x="568" y="697.7" width="10" height="2" fill="#000"/>
<rect x="584" y="636.3" width="2" height="53.2" fill="#000"/>
<rect x="581" y="639.0" width="8" height="38.7" fill="#00ff00" stroke="#000" stroke-width="2"/>
<rect x="596" y="584.3" width="2" height="59.6" fill="#000"/>
<rect x="593" y="609.6" width="8" height="30.7" fill="#ff0000" stroke="#000" stroke-width="2"/>
<rect x="608" y="614.2" width="2" height="43.6" fill="#000"/>
<rect x="605" y="621.4" width="8" height="8.8" fill="#00ff00" stroke="#000" stroke-width="2"/>
<rect x="620" y="630.3" width="2" height="25.5" fill="#000"/>
<rect x="617" y="631.3" width="8" height="8.9" fill="#ff0000" stroke="#000" stroke-width="2"/>
<rect x="632" y="622.0" width="2" height="29.7" fill="#000"/>
<rect x="629" y="635.7" width="8" height="4.1" fill="#00ff00" stroke="#000" stroke-width="2"/>
<rect x="644" y="632.1" width="2" height="27.8" fill="#000"/>
<rect x="640" y="642.0" width="10" height="2" fill="#000"/>
<rect x="656" y="626.0" width="2" height="47.8" fill="#000"/>
<rect x="653" y="629.2" width="8" height="29.1" fill="#00ff00" stroke="#000" stroke-width="2"/>
<rect x="668" y="606.0" width="2" height="35.6" fill="#000"/>
<rect x="665" y="625.6" width="8" height="6.9" fill="#ff0000" stroke="#000" stroke-width="2"/>
<rect x="680" y="601.7" width="2" height="20.0" fill="#000"/>
<rect x="677" y="607.4" width="8" height="11.0" fill="#00ff00" stroke="#000" stroke-width="2"/>
<rect x="692" y="598.2" width="2" height="27.4" fill="#000"/>
<rect x="688" y="615.8" width="10" height="4" fill="#000"/>
<rect x="704" y="620.3" width="2" height="43.6" fill="#000"/>
<rect x="701" y="631.3" width="8" height="28.9" fill="#ff0000" stroke="#000" stroke-width="2"/>
<rect x="716" y="630.0" width="2" height="19.8" fill="#000"/>
<rect x="713" y="641.4" width="8" height="2.7" fill="#00ff00" stroke="#000" stroke-width="2"/>
<rect x="728" y="599.9" width="2" height="30.1" fill="#000"/>
<rect x="725" y="615.3" width="8" height="8.8" fill="#00ff00" stroke="#000" stroke-width="2"/>
<rect x="740" y="599.9" width="2" height="31.8" fill="#000"/>
<rect x="737" y="613.4" width="8" height="12.8" fill="#ff0000" stroke="#000" stroke-width="2"/>
<rect x="752" y="546.1" width="2" height="51.8" fill="#000"/>
<rect x="749" y="573.1" width="8" height="7.2" fill="#00ff00" stroke="#000" stroke-width="2"/>
<rect x="764" y="556.5" width="2" height="19.5" fill="#000"/>
<rect x="761" y="557.5" width="8" height="14.5" fill="#ff0000" stroke="#000" stroke-width="2"/>
<rect x="776" y="577.9" width="2" height="58.0" fill="#000"/>
<rect x="773" y="583.2" width="8" height="47.0" fill="#ff0000" stroke="#000" stroke-width="2"/>
<rect x="788" y="604.3" width="2" height="43.4" fill="#000"/>
<rect x="785" y="607.0" width="8" height="18.5" fill="#00ff00" stroke="#000" stroke-width="2"/>
<rect x="800" y="580.0" width="2" height="27.8" fill="#000"/>
<rect x="797" y="583.2" width="8" height="21.3" fill="#00ff00" stroke="#000" stroke-width="2"/>
<rect x="812" y="587.8" width="2" height="27.4" fill="#000"/>
<rect x="809" y="593.1" width="8" height="21.1" fill="#00ff00" stroke="#000" stroke-width="2"/>
<rect x="824" y="587.8" width="2" height="37.9" fill="#000"/>
<rect x="821" y="603.2" width="8" height="11.0" fill="#ff0000" stroke="#000" stroke-width="2"/>
<rect x="836" y="623.9" width="2" height="51.9" fill="#000"/>
<rect x="833" y="635.3" width="8" height="33.1" fill="#ff0000" stroke="#000" stroke-width="2"/>
<rect x="848" y="669.8" width="2" height="29.7" fill="#000"/>
<rect x="844" y="675.9" width="10" height="4" fill="#000"/>
<rect x="860" y="674.5" width="2" height="22.9" fill="#000"/>
<rect x="857" y="679.7" width="8" height="10.3" fill="#00ff00" stroke="#000" stroke-width="2"/>
<rect x="872" y="634.2" width="2" height="37.4" fill="#000"/>
<rect x="869" y="637.5" width="8" height="16.5" fill="#00ff00" stroke="#000" stroke-width="2"/>
<rect x="884" y="638.4" width="2" height="43.1" fill="#000"/>
<rect x="881" y="645.3" width="8" height="28.8" fill="#ff0000" stroke="#000" stroke-width="2"/>
<rect x="896" y="656.7" width="2" height="30.8" fill="#000"/>
<rect x="893" y="657.7" width="8" height="4.2" fill="#ff0000" stroke="#000" stroke-width="2"/>
<rect x="908" y="660.3" width="2" height="21.2" fill="#000"/>
<rect x="904" y="663.6" width="10" height="4" fill="#000"/>
<rect x="920" y="674.1" width="2" height="35.7" fill="#000"/>
<rect x="916" y="677.9" width="10" height="2" fill="#000"/>
<rect x="932" y="656.0" width="2" height="35.4" fill="#000"/>
<rect x="929" y="657.7" width="8" height="26.4" fill="#00ff00" stroke="#000" stroke-width="2"/>
<rect x="944" y="601.9" width="2" height="51.6" fill="#000"/>
<rect x="941" y="605.4" width="8" height="42.6" fill="#00ff00" stroke="#000" stroke-width="2"/>
<rect x="956" y="594.0" width="2" height="29.7" fill="#000"/>
<rect x="952" y="607.9" width="10" height="2" fill="#000"/>
<rect x="968" y="594.0" width="2" height="41.8" fill="#000"/>
<rect x="965" y="599.7" width="8" height="28.1" fill="#ff0000" stroke="#000" stroke-width="2"/>
<rect x="980" y="594.0" width="2" height="39.1" fill="#000"/>
<rect x="977" y="603.5" width="8" height="6.3" fill="#00ff00" stroke="#000" stroke-width="2"/>
<rect x="992" y="550.3" width="2" height="57.3" fill="#000"/>
<rect x="989" y="557.7" width="8" height="20.5" fill="#00ff00" stroke="#000" stroke-width="2"/>
<rect x="1004" y="514.2" width="2" height="75.6" fill="#000"/>
<rect x="1001" y="533.9" width="8" height="50.0" fill="#ff0000" stroke="#000" stroke-width="2"/>
<rect x="1016" y="570.0" width="2" height="41.4" fill="#000"/>
<rect x="1013" y="579.5" width="8" height="16.5" fill="#00ff00" stroke="#000" stroke-width="2"/>
<rect x="1028" y="576.0" width="2" height="65.6" fill="#000"/>
<rect x="1025" y="599.7" width="8" height="26.2" fill="#ff0000" stroke="#000" stroke-width="2"/>
<rect x="1040" y="610.0" width="2" height="25.9" fill="#000"/>
<rect x="1036" y="611.6" width="10" height="4" fill="#000"/>
<rect x="1052" y="548.2" width="2" height="139.2" fill="#000"/>
<rect x="1049" y="551.3" width="8" height="132.4" fill="#ff0000" stroke="#000" stroke-width="2"/>
<rect x="1064" y="669.8" width="2" height="45.6" fill="#000"/>
<rect x="1061" y="703.7" width="8" height="6.1" fill="#00ff00" stroke="#000" stroke-width="2"/>
<rect x="1076" y="656.0" width="2" height="45.6" fill="#000"/>
<rect x="1073" y="661.3" width="8" height="26.2" fill="#00ff00" stroke="#000" stroke-width="2"/>
<rect x="1088" y="596.6" width="2" height="77.1" fill="#000"/>
<rect x="1085" y="599.3" width="8" height="70.6" fill="#00ff00" stroke="#000" stroke-width="2"/>
<rect x="1100" y="570.0" width="2" height="43.5" fill="#000"/>
<rect x="1097" y="585.5" width="8" height="7.6" fill="#00ff00" stroke="#000" stroke-width="2"/>
<rect x="1112" y="584.5" width="2" height="36.7" fill="#000"/>
<rect x="1109" y="595.6" width="8" height="14.6" fill="#ff0000" stroke="#000" stroke-width="2"/>
<rect x="1124" y="606.7" width="2" height="30.5" fill="#000"/>
<rect x="1120" y="607.7" width="10" height="2" fill="#000"/>
<rect x="1136" y="582.6" width="2" height="37.1" fill="#000"/>
<rect x="1132" y="603.8" width="10" height="2" fill="#000"/>
<rect x="1148" y="588.4" width="2" height="29.0" fill="#000"/>
<rect x="1144" y="600.0" width="10" height="2" fill="#000"/>
<rect x="1160" y="488.4" width="2" height="123.2" fill="#000"/>
<rect x="1157" y="529.5" width="8" height="77.2" fill="#00ff00" stroke="#000" stroke-width="2"/>
<rect x="1172" y="514.5" width="2" height="29.0" fill="#000"/>
<rect x="1169" y="525.7" width="8" height="4.4" fill="#ff0000" stroke="#000" stroke-width="2"/>
<rect x="1184" y="546.3" width="2" height="62.8" fill="#000"/>
<rect x="1181" y="555.6" width="8" height="48.2" fill="#ff0000" stroke="#000" stroke-width="2"/>
<rect x="1196" y="598.4" width="2" height="37.3" fill="#000"/>
<rect x="1193" y="609.7" width="8" height="8.6" fill="#ff0000" stroke="#000" stroke-width="2"/>
<rect x="1208" y="588.4" width="2" height="42.9" fill="#000"/>
<rect x="1205" y="603.9" width="8" height="22.1" fill="#00ff00" stroke="#000" stroke-width="2"/>
<rect x="1220" y="520.4" width="2" height="79.0" fill="#000"/>
<rect x="1217" y="531.9" width="8" height="62.3" fill="#00ff00" stroke="#000" stroke-width="2"/>
<rect x="1232" y="486.1" width="2" height="55.4" fill="#000"/>
<rect x="1229" y="517.6" width="8" height="10.4" fill="#00ff00" stroke="#000" stroke-width="2"/>
<rect x="1244" y="536.7" width="2" height="22.8" fill="#000"/>
<rect x="1241" y="541.5" width="8" height="6.7" fill="#ff0000" stroke="#000" stroke-width="2"/>
<rect x="1256" y="552.3" width="2" height="51.2" fill="#000"/>
<rect x="1252" y="561.9" width="10" height="4" fill="#000"/>
<rect x="1268" y="546.3" width="2" height="95.2" fill="#000"/>
<rect x="1265" y="553.7" width="8" height="84.5" fill="#ff0000" stroke="#000" stroke-width="2"/>
<rect x="1280" y="604.4" width="2" height="39.0" fill="#000"/>
<rect x="1277" y="617.4" width="8" height="12.5" fill="#00ff00" stroke="#000" stroke-width="2"/>
<rect x="1292" y="602.3" width="2" height="18.9" fill="#000"/>
<rect x="1289" y="613.8" width="8" height="3.0" fill="#00ff00" stroke="#000" stroke-width="2"/>
<rect x="1304" y="598.4" width="2" height="31.5" fill="#000"/>
<rect x="1301" y="603.5" width="8" height="8.6" fill="#ff0000" stroke="#000" stroke-width="2"/>
<rect x="1316" y="590.3" width="2" height="31.3" fill="#000"/>
<rect x="1313" y="597.5" width="8" height="16.5" fill="#ff0000" stroke="#000" stroke-width="2"/>
<rect x="1328" y="476.0" width="2" height="75.7" fill="#000"/>
<rect x="1325" y="487.5" width="8" height="58.8" fill="#00ff00" stroke="#000" stroke-width="2"/>
<rect x="1340" y="470.0" width="2" height="46.0" fill="#000"/>
<rect x="1337" y="473.2" width="8" height="28.7" fill="#ff0000" stroke="#000" stroke-width="2"/>
<rect x="1352" y="508.3" width="2" height="53.1" fill="#000"/>
<rect x="1349" y="515.6" width="8" height="40.3" fill="#ff0000" stroke="#000" stroke-width="2"/>
<rect x="1364" y="526.0" width="2" height="41.5" fill="#000"/>
<rect x="1361" y="533.4" width="8" height="14.4" fill="#00ff00" stroke="#000" stroke-width="2"/>
<rect x="1376" y="494.3" width="2" height="53.3" fill="#000"/>
<rect x="1373" y="521.5" width="8" height="14.2" fill="#00ff00" stroke="#000" stroke-width="2"/>
<rect x="1388" y="512.2" width="2" height="27.4" fill="#000"/>
<rect x="1385" y="519.4" width="8" height="3.0" fill="#ff0000" stroke="#000" stroke-width="2"/>
<rect x="1400" y="514.2" width="2" height="69.5" fill="#000"/>
<rect x="1397" y="527.8" width="8" height="44.3" fill="#ff0000" stroke="#000" stroke-width="2"/>
<rect x="1412" y="558.0" width="2" height="45.0" fill="#000"/>
<rect x="1409" y="577.5" width="8" height="18.7" fill="#00ff00" stroke="#000" stroke-width="2"/>
<rect x="1424" y="508.0" width="2" height="43.8" fill="#000"/>
<rect x="1421" y="523.5" width="8" height="12.3" fill="#00ff00" stroke="#000" stroke-width="2"/>
<rect x="1436" y="476.1" width="2" height="49.6" fill="#000"/>
<rect x="1433" y="483.3" width="8" height="37.2" fill="#00ff00" stroke="#000" stroke-width="2"/>
<rect x="1448" y="440.2" width="2" height="51.4" fill="#000"/>
<rect x="1445" y="463.4" width="8" height="20.8" fill="#00ff00" stroke="#000" stroke-width="2"/>
<rect x="1460" y="448.0" width="2" height="25.3" fill="#000"/>
<rect x="1457" y="461.5" width="8" height="10.7" fill="#ff0000" stroke="#000" stroke-width="2"/>
<rect x="1472" y="424.4" width="2" height="49.6" fill="#000"/>
<rect x="1469" y="451.5" width="8" height="18.7" fill="#ff0000" stroke="#000" stroke-width="2"/>
<rect x="1484" y="442.2" width="2" height="27.6" fill="#000"/>
<rect x="1481" y="453.4" width="8" height="10.5" fill="#00ff00" stroke="#000" stroke-width="2"/>
<rect x="1496" y="420.2" width="2" height="69.5" fill="#000"/>
<rect x="1493" y="447.6" width="8" height="6.7" fill="#ff0000" stroke="#000" stroke-width="2"/>
<rect x="1508" y="394.1" width="2" height="61.6" fill="#000"/>
<rect x="1505" y="401.3" width="8" height="37.0" fill="#00ff00" stroke="#000" stroke-width="2"/>
<rect x="1520" y="282.4" width="2" height="111.1" fill="#000"/>
<rect x="1517" y="309.1" width="8" height="78.9" fill="#00ff00" stroke="#000" stroke-width="2"/>
<rect x="1532" y="310.3" width="2" height="51.4" fill="#000"/>
<rect x="1529" y="315.3" width="8" height="43.1" fill="#00ff00" stroke="#000" stroke-width="2"/>
<rect x="1544" y="232.4" width="2" height="63.0" fill="#000"/>
<rect x="1541" y="235.3" width="8" height="55.0" fill="#ff0000" stroke="#000" stroke-width="2"/>
<rect x="1556" y="266.2" width="2" height="37.3" fill="#000"/>
<rect x="1553" y="283.4" width="8" height="15.0" fill="#ff0000" stroke="#000" stroke-width="2"/>
<rect x="1568" y="250.0" width="2" height="33.8" fill="#000"/>
<rect x="1565" y="259.6" width="8" height="20.4" fill="#00ff00" stroke="#000" stroke-width="2"/>
<rect x="1580" y="244.6" width="2" height="73.0" fill="#000"/>
<rect x="1577" y="265.1" width="8" height="49.6" fill="#ff0000" stroke="#000" stroke-width="2"/>
<rect x="1592" y="322.2" width="2" height="43.5" fill="#000"/>
<rect x="1588" y="332.0" width="10" height="2" fill="#000"/>
<rect x="1604" y="220.3" width="2" height="115.4" fill="#000"/>
<rect x="1601" y="239.4" width="8" height="79.1" fill="#00ff00" stroke="#000" stroke-width="2"/>
<rect x="1616" y="240.0" width="2" height="19.5" fill="#000"/>
<rect x="1613" y="241.5" width="8" height="6.6" fill="#ff0000" stroke="#000" stroke-width="2"/>
<rect x="1628" y="246.5" width="2" height="27.0" fill="#000"/>
<rect x="1625" y="257.2" width="8" height="12.9" fill="#ff0000" stroke="#000" stroke-width="2"/>
<rect x="1640" y="260.0" width="2" height="25.9" fill="#000"/>
<rect x="1636" y="271.4" width="10" height="2" fill="#000"/>
<rect x="1652" y="262.2" width="2" height="43.2" fill="#000"/>
<rect x="1649" y="269.4" width="8" height="2.6" fill="#ff0000" stroke="#000" stroke-width="2"/>
<rect x="1664" y="262.2" width="2" height="27.6" fill="#000"/>
<rect x="1660" y="273.9" width="10" height="2" fill="#000"/>
<rect x="1676" y="272.2" width="2" height="43.5" fill="#000"/>
<rect x="1673" y="283.4" width="8" height="26.9" fill="#00ff00" stroke="#000" stroke-width="2"/>
<rect x="1688" y="248.1" width="2" height="49.7" fill="#000"/>
<rect x="1685" y="263.2" width="8" height="25.0" fill="#00ff00" stroke="#000" stroke-width="2"/>
<rect x="1700" y="195.9" width="2" height="51.9" fill="#000"/>
<rect x="1697" y="205.6" width="8" height="33.1" fill="#00ff00" stroke="#000" stroke-width="2"/>
<rect x="1712" y="116.2" width="2" height="51.4" fill="#000"/>
<rect x="1708" y="148.0" width="10" height="4" fill="#000"/>
<rect x="1724" y="138.6" width="2" height="39.2" fill="#000"/>
<rect x="1721" y="143.4" width="8" height="8.8" fill="#00ff00" stroke="#000" stroke-width="2"/>
<rect x="1736" y="150.0" width="2" height="75.7" fill="#000"/>
<rect x="1733" y="155.6" width="8" height="54.2" fill="#ff0000" stroke="#000" stroke-width="2"/>
<rect x="1748" y="191.9" width="2" height="47.8" fill="#000"/>
<rect x="1745" y="195.1" width="8" height="29.1" fill="#ff0000" stroke="#000" stroke-width="2"/>
<rect x="1760" y="166.2" width="2" height="44.6" fill="#000"/>
<rect x="1757" y="175.3" width="8" height="34.5" fill="#00ff00" stroke="#000" stroke-width="2"/>
<rect x="1772" y="175.9" width="2" height="43.4" fill="#000"/>
<rect x="1769" y="177.5" width="8" height="36.5" fill="#ff0000" stroke="#000" stroke-width="2"/>
<rect x="1784" y="206.3" width="2" height="81.1" fill="#000"/>
<rect x="1781" y="207.3" width="8" height="56.5" fill="#ff0000" stroke="#000" stroke-width="2"/>
<rect x="1796" y="252.6" width="2" height="48.6" fill="#000"/>
<rect x="1793" y="257.4" width="8" height="6.7" fill="#ff0000" stroke="#000" stroke-width="2"/>
<rect x="1808" y="184.6" width="2" height="108.6" fill="#000"/>
<rect x="1805" y="255.7" width="8" height="20.0" fill="#ff0000" stroke="#000" stroke-width="2"/>
<rect x="1820" y="261.9" width="2" height="37.1" fill="#000"/>
<rect x="1816" y="275.7" width="10" height="2" fill="#000"/>
<rect x="1832" y="298.4" width="2" height="90.3" fill="#000"/>
<rect x="1829" y="359.3" width="8" height="8.1" fill="#00ff00" stroke="#000" stroke-width="2"/>
<rect x="1844" y="392.2" width="2" height="55.0" fill="#000"/>
<rect x="1841" y="397.5" width="8" height="35.9" fill="#ff0000" stroke="#000" stroke-width="2"/>
<rect x="1856" y="410.4" width="2" height="26.9" fill="#000"/>
<rect x="1853" y="419.5" width="8" height="5.8" fill="#00ff00" stroke="#000" stroke-width="2"/>
<rect x="1868" y="367.9" width="2" height="59.1" fill="#000"/>
<rect x="1865" y="383.4" width="8" height="31.9" fill="#00ff00" stroke="#000" stroke-width="2"/>
<rect x="1880" y="364.1" width="2" height="45.5" fill="#000"/>
<rect x="1876" y="404.2" width="10" height="2" fill="#000"/>
<rect x="1892" y="364.1" width="2" height="39.1" fill="#000"/>
<rect x="1889" y="379.6" width="8" height="10.2" fill="#00ff00" stroke="#000" stroke-width="2"/>
<rect x="1904" y="346.2" width="2" height="39.1" fill="#000"/>
<rect x="1900" y="353.6" width="10" height="2" fill="#000"/>
<rect x="1916" y="350.2" width="2" height="49.2" fill="#000"/>
<rect x="1913" y="357.3" width="8" height="18.0" fill="#ff0000" stroke="#000" stroke-width="2"/>
<rect x="1928" y="340.1" width="2" height="33.3" fill="#000"/>
<rect x="1925" y="347.7" width="8" height="19.7" fill="#00ff00" stroke="#000" stroke-width="2"/>
<rect x="1940" y="340.1" width="2" height="29.0" fill="#000"/>
<rect x="1936" y="343.9" width="10" height="4" fill="#000"/>
<rect x="1952" y="308.5" width="2" height="34.5" fill="#000"/>
<rect x="1949" y="319.4" width="8" height="22.6" fill="#00ff00" stroke="#000" stroke-width="2"/>
<rect x="1964" y="308.2" width="2" height="68.9" fill="#000"/>
<rect x="1961" y="319.4" width="8" height="50.1" fill="#ff0000" stroke="#000" stroke-width="2"/>
<rect x="1976" y="406.1" width="2" height="33.3" fill="#000"/>
<rect x="1973" y="407.7" width="8" height="24.1" fill="#ff0000" stroke="#000" stroke-width="2"/>
<rect x="1988" y="426.8" width="2" height="52.7" fill="#000"/>
<rect x="1985" y="427.8" width="8" height="32.6" fill="#ff0000" stroke="#000" stroke-width="2"/>
<rect x="2000" y="464.6" width="2" height="41.0" fill="#000"/>
<rect x="1997" y="467.7" width="8" height="24.6" fill="#ff0000" stroke="#000" stroke-width="2"/>
<rect x="2012" y="410.0" width="2" height="83.7" fill="#000"/>
<rect x="2009" y="421.6" width="8" height="58.3" fill="#ff0000" stroke="#000" stroke-width="2"/>
<rect x="2024" y="476.3" width="2" height="23.4" fill="#000"/>
<rect x="2020" y="491.9" width="10" height="2" fill="#000"/>
<rect x="2036" y="428.1" width="2" height="73.7" fill="#000"/>
<rect x="2033" y="433.8" width="8" height="50.0" fill="#00ff00" stroke="#000" stroke-width="2"/>
<rect x="2048" y="412.1" width="2" height="31.6" fill="#000"/>
<rect x="2044" y="425.8" width="10" height="2" fill="#000"/>
<rect x="2060" y="422.1" width="2" height="27.6" fill="#000"/>
<rect x="2056" y="422.0" width="10" height="4" fill="#000"/>
<rect x="2072" y="378.6" width="2" height="48.9" fill="#000"/>
<rect x="2069" y="381.3" width="8" height="37.1" fill="#00ff00" stroke="#000" stroke-width="2"/>
<rect x="2084" y="356.3" width="2" height="39.3" fill="#000"/>
<rect x="2081" y="373.9" width="8" height="4.4" fill="#ff0000" stroke="#000" stroke-width="2"/>
<rect x="2096" y="326.6" width="2" height="103.0" fill="#000"/>
<rect x="2093" y="347.3" width="8" height="62.8" fill="#00ff00" stroke="#000" stroke-width="2"/>
<rect x="2108" y="327.6" width="2" height="42.1" fill="#000"/>
<rect x="2105" y="357.5" width="8" height="3.0" fill="#ff0000" stroke="#000" stroke-width="2"/>
<rect x="2120" y="342.1" width="2" height="31.9" fill="#000"/>
<rect x="2117" y="359.4" width="8" height="4.8" fill="#00ff00" stroke="#000" stroke-width="2"/>
<rect x="2132" y="316.4" width="2" height="36.7" fill="#000"/>
<rect x="2129" y="323.3" width="8" height="28.8" fill="#ff0000" stroke="#000" stroke-width="2"/>
<rect x="2144" y="318.1" width="2" height="33.3" fill="#000"/>
<rect x="2141" y="339.7" width="8" height="6.5" fill="#00ff00" stroke="#000" stroke-width="2"/>
<rect x="2156" y="331.9" width="2" height="73.7" fill="#000"/>
<rect x="2153" y="347.3" width="8" height="53.0" fill="#00ff00" stroke="#000" stroke-width="2"/>
<rect x="2168" y="334.0" width="2" height="75.8" fill="#000"/>
<rect x="2165" y="373.6" width="8" height="28.8" fill="#ff0000" stroke="#000" stroke-width="2"/>
<rect x="2180" y="383.9" width="2" height="43.5" fill="#000"/>
<rect x="2177" y="405.7" width="8" height="6.5" fill="#00ff00" stroke="#000" stroke-width="2"/>
<rect x="2192" y="402.4" width="2" height="33.1" fill="#000"/>
<rect x="2189" y="411.5" width="8" height="4.8" fill="#00ff00" stroke="#000" stroke-width="2"/>
<rect x="2204" y="424.6" width="2" height="45.0" fill="#000"/>
<rect x="2201" y="427.3" width="8" height="26.7" fill="#ff0000" stroke="#000" stroke-width="2"/>
<rect x="2216" y="428.2" width="2" height="43.5" fill="#000"/>
<rect x="2213" y="441.5" width="8" height="10.7" fill="#00ff00" stroke="#000" stroke-width="2"/>
<rect x="2228" y="422.1" width="2" height="53.5" fill="#000"/>
<rect x="2224" y="447.6" width="10" height="2" fill="#000"/>
<rect x="2240" y="440.5" width="2" height="25.1" fill="#000"/>
<rect x="2237" y="441.5" width="8" height="16.7" fill="#ff0000" stroke="#000" stroke-width="2"/>
<rect x="2252" y="442.2" width="2" height="37.6" fill="#000"/>
<rect x="2249" y="443.7" width="8" height="20.7" fill="#00ff00" stroke="#000" stroke-width="2"/>
<rect x="2264" y="414.0" width="2" height="39.7" fill="#000"/>
<rect x="2261" y="419.7" width="8" height="22.6" fill="#00ff00" stroke="#000" stroke-width="2"/>
<rect x="2276" y="383.8" width="2" height="35.9" fill="#000"/>
<rect x="2273" y="387.4" width="8" height="18.8" fill="#00ff00" stroke="#000" stroke-width="2"/>
<rect x="2288" y="364.2" width="2" height="41.0" fill="#000"/>
<rect x="2285" y="389.5" width="8" height="12.8" fill="#ff0000" stroke="#000" stroke-width="2"/>
<rect x="2300" y="404.4" width="2" height="40.8" fill="#000"/>
<rect x="2297" y="425.6" width="8" height="18.6" fill="#ff0000" stroke="#000" stroke-width="2"/>
<rect x="2312" y="412.3" width="2" height="39.3" fill="#000"/>
<rect x="2309" y="443.2" width="8" height="3.3" fill="#ff0000" stroke="#000" stroke-width="2"/>
<rect x="2324" y="456.0" width="2" height="93.5" fill="#000"/>
<rect x="2321" y="461.3" width="8" height="85.5" fill="#ff0000" stroke="#000" stroke-width="2"/>
<rect x="2336" y="508.1" width="2" height="69.5" fill="#000"/>
<rect x="2333" y="523.7" width="8" height="32.6" fill="#00ff00" stroke="#000" stroke-width="2"/>
<rect x="2348" y="510.0" width="2" height="27.6" fill="#000"/>
<rect x="2345" y="513.3" width="8" height="19.0" fill="#ff0000" stroke="#000" stroke-width="2"/>
<rect x="2360" y="496.2" width="2" height="37.2" fill="#000"/>
<rect x="2357" y="519.5" width="8" height="12.9" fill="#00ff00" stroke="#000" stroke-width="2"/>
<rect x="2372" y="404.4" width="2" height="93.5" fill="#000"/>
<rect x="2369" y="419.7" width="8" height="70.2" fill="#00ff00" stroke="#000" stroke-width="2"/>
<rect x="2384" y="406.6" width="2" height="49.3" fill="#000"/>
<rect x="2381" y="423.5" width="8" height="17.1" fill="#00ff00" stroke="#000" stroke-width="2"/>
<rect x="2396" y="296.1" width="2" height="105.5" fill="#000"/>
<rect x="2393" y="305.4" width="8" height="93.1" fill="#00ff00" stroke="#000" stroke-width="2"/>
<rect x="2408" y="278.2" width="2" height="33.5" fill="#000"/>
<rect x="2404" y="301.7" width="10" height="2" fill="#000"/>
<rect x="2420" y="300.4" width="2" height="23.1" fill="#000"/>
<rect x="2417" y="303.5" width="8" height="2.9" fill="#00ff00" stroke="#000" stroke-width="2"/>
<rect x="2432" y="286.0" width="2" height="47.4" fill="#000"/>
<rect x="2429" y="317.6" width="8" height="10.9" fill="#00ff00" stroke="#000" stroke-width="2"/>
<rect x="2444" y="304.2" width="2" height="55.3" fill="#000"/>
<rect x="2440" y="321.6" width="10" height="2" fill="#000"/>
<rect x="2456" y="266.3" width="2" height="65.3" fill="#000"/>
<rect x="2453" y="276.1" width="8" height="45.7" fill="#00ff00" stroke="#000" stroke-width="2"/>
<rect x="2468" y="274.3" width="2" height="93.1" fill="#000"/>
<rect x="2465" y="305.7" width="8" height="58.3" fill="#ff0000" stroke="#000" stroke-width="2"/>
<rect x="2480" y="346.1" width="2" height="60.8" fill="#000"/>
<rect x="2477" y="363.4" width="8" height="42.4" fill="#ff0000" stroke="#000" stroke-width="2"/>
<rect x="2492" y="430.2" width="2" height="33.6" fill="#000"/>
<rect x="2489" y="435.5" width="8" height="16.8" fill="#ff0000" stroke="#000" stroke-width="2"/>
<rect x="2504" y="462.1" width="2" height="43.4" fill="#000"/>
<rect x="2501" y="483.7" width="8" height="18.3" fill="#ff0000" stroke="#000" stroke-width="2"/>
<rect x="2516" y="460.9" width="2" height="38.4" fill="#000"/>
<rect x="2513" y="465.6" width="8" height="30.6" fill="#00ff00" stroke="#000" stroke-width="2"/>
<rect x="2528" y="424.4" width="2" height="55.2" fill="#000"/>
<rect x="2525" y="461.9" width="8" height="12.3" fill="#ff0000" stroke="#000" stroke-width="2"/>
<rect x="2540" y="460.9" width="2" height="28.9" fill="#000"/>
<rect x="2537" y="468.1" width="8" height="4.3" fill="#ff0000" stroke="#000" stroke-width="2"/>
<rect x="2552" y="444.5" width="2" height="35.1" fill="#000"/>
<rect x="2548" y="463.9" width="10" height="4" fill="#000"/>
<rect x="2564" y="452.8" width="2" height="58.2" fill="#000"/>
<rect x="2561" y="461.9" width="8" height="34.4" fill="#ff0000" stroke="#000" stroke-width="2"/>
<rect x="2576" y="514.3" width="2" height="93.1" fill="#000"/>
<rect x="2573" y="557.4" width="8" height="16.5" fill="#ff0000" stroke="#000" stroke-width="2"/>
<rect x="2588" y="566.4" width="2" height="68.8" fill="#000"/>
<rect x="2585" y="589.4" width="8" height="40.8" fill="#ff0000" stroke="#000" stroke-width="2"/>
<rect x="2600" y="637.0" width="2" height="38.7" fill="#000"/>
<rect x="2596" y="635.9" width="10" height="4" fill="#000"/>
<rect x="2612" y="634.0" width="2" height="23.2" fill="#000"/>
<rect x="2609" y="637.7" width="8" height="12.6" fill="#ff0000" stroke="#000" stroke-width="2"/>
<rect x="2624" y="648.6" width="2" height="40.5" fill="#000"/>
<rect x="2621" y="653.5" width="8" height="28.6" fill="#ff0000" stroke="#000" stroke-width="2"/>
<rect x="2636" y="666.4" width="2" height="20.8" fill="#000"/>
<rect x="2632" y="677.6" width="10" height="4" fill="#000"/>
<rect x="2648" y="676.3" width="2" height="16.7" fill="#000"/>
<rect x="2644" y="682.1" width="10" height="2" fill="#000"/>
<rect x="2660" y="678.0" width="2" height="23.2" fill="#000"/>
<rect x="2657" y="683.6" width="8" height="10.3" fill="#ff0000" stroke="#000" stroke-width="2"/>
<rect x="2672" y="688.4" width="2" height="18.5" fill="#000"/>
<rect x="2669" y="697.5" width="8" height="4.5" fill="#00ff00" stroke="#000" stroke-width="2"/>
<rect x="2680" y="693.8" width="10" height="2" fill="#111"/>
</g>
<path d="M304.5 785.5 L320.5 780 L336.5 785.5 L336.5 816 L304.5 816 Z" fill="#e6f5e8" stroke="#fff" stroke-width="8" stroke-linejoin="round"/>
<path d="M304.5 785.5 L320.5 780 L336.5 785.5 L336.5 816 L304.5 816 Z" fill="#e6f5e8" stroke="#00a349" stroke-width="4" stroke-linejoin="round"/>
<text transform="translate(320.2 807.9) scale(0.84 1)" font-size="25" fill="#17782e" text-anchor="middle">E</text>
<circle cx="596" cy="800" r="20" fill="#fff"/>
<circle cx="596" cy="800" r="18" fill="#eaf2fd" stroke="#2f8ff0" stroke-width="4"/>
<text transform="translate(596.6 807.6) scale(0.93 1)" font-size="25" fill="#2456c2" text-anchor="middle">D</text>
<path d="M1024 784 L1056 784 L1056 814 L1040 819.5 L1024 814 Z" fill="#fdeeee" stroke="#fff" stroke-width="8" stroke-linejoin="round"/>
<path d="M1024 784 L1056 784 L1056 814 L1040 819.5 L1024 814 Z" fill="#fdeeee" stroke="#ff4d5b" stroke-width="4" stroke-linejoin="round"/>
<text transform="translate(1039.7 807.9) scale(0.84 1)" font-size="25" fill="#d0101e" text-anchor="middle">E</text>
<circle cx="1184" cy="800" r="20" fill="#fff"/>
<circle cx="1184" cy="800" r="18" fill="#eaf2fd" stroke="#2f8ff0" stroke-width="4"/>
<text transform="translate(1184.6 807.6) scale(0.93 1)" font-size="25" fill="#2456c2" text-anchor="middle">D</text>
<path d="M1804 785.5 L1820 780 L1836 785.5 L1836 816 L1804 816 Z" fill="#e6f5e8" stroke="#fff" stroke-width="8" stroke-linejoin="round"/>
<path d="M1804 785.5 L1820 780 L1836 785.5 L1836 816 L1804 816 Z" fill="#e6f5e8" stroke="#00a349" stroke-width="4" stroke-linejoin="round"/>
<text transform="translate(1819.7 807.9) scale(0.84 1)" font-size="25" fill="#17782e" text-anchor="middle">E</text>
<circle cx="2012" cy="800" r="20" fill="#fff"/>
<circle cx="2012" cy="800" r="18" fill="#eaf2fd" stroke="#2f8ff0" stroke-width="4"/>
<text transform="translate(2012.6 807.6) scale(0.93 1)" font-size="25" fill="#2456c2" text-anchor="middle">D</text>
<path d="M2548 784 L2580 784 L2580 814 L2564 819.5 L2548 814 Z" fill="#fdeeee" stroke="#fff" stroke-width="8" stroke-linejoin="round"/>
<path d="M2548 784 L2580 784 L2580 814 L2564 819.5 L2548 814 Z" fill="#fdeeee" stroke="#ff4d5b" stroke-width="4" stroke-linejoin="round"/>
<text transform="translate(2563.7 807.9) scale(0.84 1)" font-size="25" fill="#d0101e" text-anchor="middle">E</text>
<defs><filter id="bl" x="-10%" y="-30%" width="120%" height="160%"><feGaussianBlur stdDeviation="1.1"/></filter></defs>
<g filter="url(#bl)">
<text transform="translate(2707.52 829.80) scale(0.9750 1)" style="font-family:'Liberation Sans'" font-size="21.30" fill="#6e6e6e" stroke="#6e6e6e" stroke-width="0.5">95.00</text>
<text transform="translate(2706.92 757.81) scale(0.9750 1)" style="font-family:'Liberation Sans'" font-size="21.30" fill="#6e6e6e" stroke="#6e6e6e" stroke-width="0.5">100.00</text>
<text transform="translate(2706.92 685.82) scale(0.9750 1)" style="font-family:'Liberation Sans'" font-size="21.30" fill="#6e6e6e" stroke="#6e6e6e" stroke-width="0.5">105.00</text>
<text transform="translate(2706.92 613.83) scale(0.9750 1)" style="font-family:'Liberation Sans'" font-size="21.30" fill="#6e6e6e" stroke="#6e6e6e" stroke-width="0.5">110.00</text>
<text transform="translate(2706.92 541.84) scale(0.9750 1)" style="font-family:'Liberation Sans'" font-size="21.30" fill="#6e6e6e" stroke="#6e6e6e" stroke-width="0.5">115.00</text>
<text transform="translate(2706.92 469.85) scale(0.9750 1)" style="font-family:'Liberation Sans'" font-size="21.30" fill="#6e6e6e" stroke="#6e6e6e" stroke-width="0.5">120.00</text>
<text transform="translate(2706.92 397.86) scale(0.9750 1)" style="font-family:'Liberation Sans'" font-size="21.30" fill="#6e6e6e" stroke="#6e6e6e" stroke-width="0.5">125.00</text>
<text transform="translate(2706.92 325.87) scale(0.9750 1)" style="font-family:'Liberation Sans'" font-size="21.30" fill="#6e6e6e" stroke="#6e6e6e" stroke-width="0.5">130.00</text>
<text transform="translate(2706.92 253.88) scale(0.9750 1)" style="font-family:'Liberation Sans'" font-size="21.30" fill="#6e6e6e" stroke="#6e6e6e" stroke-width="0.5">135.00</text>
<text transform="translate(2706.92 181.89) scale(0.9750 1)" style="font-family:'Liberation Sans'" font-size="21.30" fill="#6e6e6e" stroke="#6e6e6e" stroke-width="0.5">140.00</text>
<text transform="translate(2706.92 109.90) scale(0.9750 1)" style="font-family:'Liberation Sans'" font-size="21.30" fill="#6e6e6e" stroke="#6e6e6e" stroke-width="0.5">145.00</text>
<text transform="translate(25.00 709.60) scale(1.0315 1)" style="font-family:'Liberation Sans'" font-size="20.92" fill="#6e6e6e" stroke="#6e6e6e" stroke-width="0.5">40M</text>
<text transform="translate(24.67 739.20) scale(1.0400 1)" style="font-family:'Liberation Sans'" font-size="20.92" fill="#6e6e6e" stroke="#6e6e6e" stroke-width="0.5">30M</text>
<text transform="translate(24.41 769.60) scale(1.0469 1)" style="font-family:'Liberation Sans'" font-size="20.92" fill="#6e6e6e" stroke="#6e6e6e" stroke-width="0.5">20M</text>
<text transform="translate(23.81 799.60) scale(1.0621 1)" style="font-family:'Liberation Sans'" font-size="20.92" fill="#6e6e6e" stroke="#6e6e6e" stroke-width="0.5">10M</text>
</g>
<rect x="2701.6" y="679.7" width="72.4" height="24.5" fill="#fff200"/>
<g filter="url(#bl)">
<text transform="translate(2706.20 699.60) scale(0.9863 1)" style="font-family:'Liberation Sans'" font-size="21.35" fill="#1a1d24" stroke="#1a1d24" stroke-width="0.25">104.05</text>
</g>
<text transform="translate(26.3 39.7) scale(0.97 1)" style="font-family:'Liberation Serif'" font-weight="bold" font-size="40" fill="#2b303b">fınvız</text>
<circle cx="94.3" cy="16.1" r="3.7" fill="#4aa8f7"/>
<text transform="translate(23.13 91.80) scale(0.8947 1)" style="font-family:'Liberation Sans'" font-size="54.51" font-weight="bold" fill="#5f6780" >LEN</text>
<text transform="translate(1350.03 81.90) scale(0.9683 1)" style="font-family:'Liberation Sans'" font-size="30.38" font-weight="bold" fill="#a0a6b8" >DAILY</text>
<text transform="translate(2395.97 38.15) scale(0.9652 1)" style="font-family:'Liberation Sans'" font-size="27.70" font-weight="bold" fill="#5f6b80" >Wed DEC 31 2025 7:46 AM ET</text>
<text transform="translate(2584.36 81.60) scale(1.0948 1)" style="font-family:'Liberation Sans'" font-size="27.00" font-weight="bold" fill="#0a9a12" >+0.16 (0.15%)</text>
<text transform="translate(25.29 123.90) scale(0.9699 1)" style="font-family:'Liberation Sans'" font-size="21.49" fill="#a0a6b8" >Dec 31</text>
<text transform="translate(144.24 123.90) scale(0.9551 1)" style="font-family:'Liberation Sans'" font-size="21.49" fill="#0ba240" >104.01</text>
<text transform="translate(123.84 123.90) scale(0.9551 1)" style="font-family:'Liberation Sans'" font-size="21.49" fill="#a0a6b8" >O</text>
<text transform="translate(239.32 123.90) scale(0.9551 1)" style="font-family:'Liberation Sans'" font-size="21.49" fill="#a0a6b8" >H</text>
<text transform="translate(257.94 123.90) scale(0.9551 1)" style="font-family:'Liberation Sans'" font-size="21.49" fill="#0ba240" >104.05</text>
<text transform="translate(353.32 123.90) scale(0.9551 1)" style="font-family:'Liberation Sans'" font-size="21.49" fill="#a0a6b8" >L</text>
<text transform="translate(368.04 123.90) scale(0.9551 1)" style="font-family:'Liberation Sans'" font-size="21.49" fill="#0ba240" >104.01</text>
<text transform="translate(463.65 123.90) scale(0.9551 1)" style="font-family:'Liberation Sans'" font-size="21.49" fill="#a0a6b8" >C</text>
<text transform="translate(481.44 123.90) scale(0.9551 1)" style="font-family:'Liberation Sans'" font-size="21.49" fill="#0ba240" >104.05</text>
<text transform="translate(577.90 123.90) scale(0.9551 1)" style="font-family:'Liberation Sans'" font-size="21.49" fill="#a0a6b8" >Vol</text>
<text transform="translate(609.04 123.90) scale(0.9551 1)" style="font-family:'Liberation Sans'" font-size="21.49" fill="#0ba240" >931.00</text>
<text transform="translate(25.90 159.80) scale(0.9972 1)" style="font-family:'Liberation Sans'" font-size="21.78" fill="#eca4de" >SMA 20</text>
<text transform="translate(126.39 159.80) scale(0.9745 1)" style="font-family:'Liberation Sans'" font-size="21.78" fill="#eca4de" >113.98</text>
<rect x="112.0" y="150.7" width="2.8" height="2.6" fill="#6e7388"/>
<text transform="translate(25.90 196.00) scale(0.9842 1)" style="font-family:'Liberation Sans'" font-size="22.06" fill="#fda35a" >SMA 50</text>
<text transform="translate(126.44 196.00) scale(0.9318 1)" style="font-family:'Liberation Sans'" font-size="22.06" fill="#fda35a" >120.01</text>
<rect x="112.0" y="186.9" width="2.8" height="2.6" fill="#6e7388"/>
<text transform="translate(25.91 231.80) scale(1.0266 1)" style="font-family:'Liberation Sans'" font-size="21.06" fill="#ebd8a2" >SMA 200</text>
<text transform="translate(137.97 231.80) scale(1.0201 1)" style="font-family:'Liberation Sans'" font-size="21.06" fill="#ebd8a2" >117.82</text>
<rect x="124.0" y="222.7" width="2.8" height="2.6" fill="#6e7388"/>
<line x1="70" y1="1094.8" x2="2690" y2="1094.8" stroke="#d4d4d4" stroke-width="2" stroke-dasharray="6 6"/>
<line x1="70" y1="1076.8" x2="2690" y2="1076.8" stroke="#d4d4d4" stroke-width="2" stroke-dasharray="6 6"/>
<line x1="70" y1="1058.8" x2="2690" y2="1058.8" stroke="#d4d4d4" stroke-width="2" stroke-dasharray="6 6"/>
<line x1="70" y1="1022.7" x2="2690" y2="1022.7" stroke="#d4d4d4" stroke-width="2" stroke-dasharray="6 6"/>
<line x1="70" y1="986.7" x2="2690" y2="986.7" stroke="#d4d4d4" stroke-width="2" stroke-dasharray="6 6"/>
<line x1="70" y1="950.6" x2="2690" y2="950.6" stroke="#d4d4d4" stroke-width="2" stroke-dasharray="6 6"/>
<line x1="70" y1="932.6" x2="2690" y2="932.6" stroke="#d4d4d4" stroke-width="2" stroke-dasharray="6 6"/>
<line x1="70" y1="914.6" x2="2690" y2="914.6" stroke="#d4d4d4" stroke-width="2" stroke-dasharray="6 6"/>
<line x1="70" y1="1004.7" x2="2690" y2="1004.7" stroke="#f07878" stroke-width="2" stroke-dasharray="6 6"/>
<g clip-path="url(#rc)">
<clipPath id="ob"><rect x="70" y="900" width="2620" height="68.7"/></clipPath>
<clipPath id="os"><rect x="70" y="1040.7" width="2620" height="80"/></clipPath>
<path d="M69.0 1028.6 L81.0 1023.0 L93.0 1028.6 L105.0 1028.6 L117.0 1013.0 L129.0 1020.7 L141.0 1023.0 L153.0 1024.9 L165.0 1028.6 L177.0 1024.9 L189.0 1013.0 L201.0 1000.5 L213.0 1002.5 L225.0 1002.5 L237.0 1015.0 L249.0 1020.7 L261.0 1026.7 L273.0 1020.7 L285.0 1018.7 L297.0 1018.7 L309.0 1013.0 L321.0 1013.0 L333.0 1026.7 L345.0 1018.7 L357.0 1016.7 L369.0 1016.7 L381.0 1016.7 L393.0 1028.6 L405.0 1024.9 L417.0 1024.9 L429.0 1020.7 L441.0 1038.6 L453.0 1026.7 L465.0 1036.6 L477.0 1042.8 L489.0 1023.0 L501.0 1030.9 L513.0 1028.6 L525.0 1026.7 L537.0 1028.6 L549.0 1032.9 L561.0 1024.9 L573.0 1028.6 L585.0 1013.0 L597.0 1015.0 L609.0 1008.8 L621.0 1013.0 L633.0 1010.8 L645.0 1013.0 L657.0 1008.8 L669.0 1011.2 L681.0 1003.0 L693.0 1006.8 L705.0 1016.9 L717.0 1010.9 L729.0 1004.9 L741.0 1006.8 L753.0 994.9 L765.0 994.9 L777.0 1009.0 L789.0 1003.0 L801.0 996.8 L813.0 1000.9 L825.0 1006.8 L837.0 1018.8 L849.0 1021.0 L861.0 1021.0 L873.0 1009.0 L885.0 1016.9 L897.0 1015.0 L909.0 1015.0 L921.0 1018.8 L933.0 1010.9 L945.0 996.8 L957.0 996.8 L969.0 1004.9 L981.0 996.8 L993.0 986.7 L1005.0 994.9 L1017.0 993.0 L1029.0 1006.8 L1041.0 1003.0 L1053.0 1018.8 L1065.0 1022.9 L1077.0 1010.9 L1089.0 999.0 L1101.0 994.9 L1113.0 1000.9 L1125.0 1000.9 L1137.0 1000.9 L1149.0 999.0 L1161.0 982.9 L1173.0 984.8 L1185.0 1004.9 L1197.0 1006.8 L1209.0 1003.0 L1221.0 988.9 L1233.0 984.8 L1245.0 994.9 L1257.0 999.0 L1269.0 1015.0 L1281.0 1009.0 L1293.0 1009.0 L1305.0 1009.0 L1317.0 1009.0 L1329.0 982.9 L1341.0 986.7 L1353.0 999.0 L1365.0 994.9 L1377.0 993.0 L1389.0 993.0 L1401.0 1004.9 L1413.0 1006.8 L1425.0 994.9 L1437.0 986.7 L1449.0 984.8 L1461.0 986.7 L1473.0 986.7 L1485.0 982.9 L1497.0 984.8 L1509.0 974.8 L1521.0 962.8 L1533.0 965.0 L1545.0 960.9 L1557.0 965.0 L1569.0 958.8 L1581.0 976.7 L1593.0 980.8 L1605.0 968.8 L1617.0 972.9 L1629.0 978.9 L1641.0 978.9 L1653.0 978.9 L1665.0 978.9 L1677.0 980.8 L1689.0 976.7 L1701.0 966.9 L1713.0 960.9 L1725.0 958.8 L1737.0 982.9 L1749.0 984.8 L1761.0 976.7 L1773.0 988.9 L1785.0 1000.9 L1797.0 999.0 L1809.0 1003.0 L1821.0 1003.0 L1833.0 1021.0 L1845.0 1032.9 L1857.0 1027.0 L1869.0 1018.8 L1881.0 1022.9 L1893.0 1015.0 L1905.0 1010.9 L1917.0 1015.0 L1929.0 1009.0 L1941.0 1006.8 L1953.0 1000.9 L1965.0 1012.8 L1977.0 1024.8 L1989.0 1028.9 L2001.0 1032.9 L2013.0 1030.8 L2025.0 1031.2 L2037.0 1015.3 L2049.0 1015.3 L2061.0 1012.8 L2073.0 1002.9 L2085.0 1002.9 L2097.0 994.8 L2109.0 998.7 L2121.0 998.7 L2133.0 996.6 L2145.0 992.7 L2157.0 996.9 L2169.0 1012.8 L2181.0 1012.8 L2193.0 1014.9 L2205.0 1024.9 L2217.0 1020.7 L2229.0 1022.8 L2241.0 1024.9 L2253.0 1018.9 L2265.0 1010.7 L2277.0 998.7 L2289.0 1004.7 L2301.0 1016.8 L2313.0 1016.8 L2325.0 1039.0 L2337.0 1028.8 L2349.0 1030.9 L2361.0 1026.7 L2373.0 1000.8 L2385.0 1000.8 L2397.0 981.2 L2409.0 981.2 L2421.0 981.2 L2433.0 984.8 L2445.0 986.6 L2457.0 976.7 L2469.0 1000.8 L2481.0 1008.9 L2493.0 1016.8 L2505.0 1024.9 L2517.0 1014.9 L2529.0 1018.9 L2541.0 1016.8 L2553.0 1016.8 L2565.0 1021.0 L2577.0 1033.0 L2589.0 1040.9 L2601.0 1040.9 L2613.0 1043.0 L2625.0 1046.9 L2637.0 1045.1 L2649.0 1045.1 L2661.0 1046.9 L2673.0 1046.9 L2685.0 1046.9 L2685 968.7 L69 968.7 Z" fill="#d6a0e6" clip-path="url(#ob)"/>
<path d="M69.0 1028.6 L81.0 1023.0 L93.0 1028.6 L105.0 1028.6 L117.0 1013.0 L129.0 1020.7 L141.0 1023.0 L153.0 1024.9 L165.0 1028.6 L177.0 1024.9 L189.0 1013.0 L201.0 1000.5 L213.0 1002.5 L225.0 1002.5 L237.0 1015.0 L249.0 1020.7 L261.0 1026.7 L273.0 1020.7 L285.0 1018.7 L297.0 1018.7 L309.0 1013.0 L321.0 1013.0 L333.0 1026.7 L345.0 1018.7 L357.0 1016.7 L369.0 1016.7 L381.0 1016.7 L393.0 1028.6 L405.0 1024.9 L417.0 1024.9 L429.0 1020.7 L441.0 1038.6 L453.0 1026.7 L465.0 1036.6 L477.0 1042.8 L489.0 1023.0 L501.0 1030.9 L513.0 1028.6 L525.0 1026.7 L537.0 1028.6 L549.0 1032.9 L561.0 1024.9 L573.0 1028.6 L585.0 1013.0 L597.0 1015.0 L609.0 1008.8 L621.0 1013.0 L633.0 1010.8 L645.0 1013.0 L657.0 1008.8 L669.0 1011.2 L681.0 1003.0 L693.0 1006.8 L705.0 1016.9 L717.0 1010.9 L729.0 1004.9 L741.0 1006.8 L753.0 994.9 L765.0 994.9 L777.0 1009.0 L789.0 1003.0 L801.0 996.8 L813.0 1000.9 L825.0 1006.8 L837.0 1018.8 L849.0 1021.0 L861.0 1021.0 L873.0 1009.0 L885.0 1016.9 L897.0 1015.0 L909.0 1015.0 L921.0 1018.8 L933.0 1010.9 L945.0 996.8 L957.0 996.8 L969.0 1004.9 L981.0 996.8 L993.0 986.7 L1005.0 994.9 L1017.0 993.0 L1029.0 1006.8 L1041.0 1003.0 L1053.0 1018.8 L1065.0 1022.9 L1077.0 1010.9 L1089.0 999.0 L1101.0 994.9 L1113.0 1000.9 L1125.0 1000.9 L1137.0 1000.9 L1149.0 999.0 L1161.0 982.9 L1173.0 984.8 L1185.0 1004.9 L1197.0 1006.8 L1209.0 1003.0 L1221.0 988.9 L1233.0 984.8 L1245.0 994.9 L1257.0 999.0 L1269.0 1015.0 L1281.0 1009.0 L1293.0 1009.0 L1305.0 1009.0 L1317.0 1009.0 L1329.0 982.9 L1341.0 986.7 L1353.0 999.0 L1365.0 994.9 L1377.0 993.0 L1389.0 993.0 L1401.0 1004.9 L1413.0 1006.8 L1425.0 994.9 L1437.0 986.7 L1449.0 984.8 L1461.0 986.7 L1473.0 986.7 L1485.0 982.9 L1497.0 984.8 L1509.0 974.8 L1521.0 962.8 L1533.0 965.0 L1545.0 960.9 L1557.0 965.0 L1569.0 958.8 L1581.0 976.7 L1593.0 980.8 L1605.0 968.8 L1617.0 972.9 L1629.0 978.9 L1641.0 978.9 L1653.0 978.9 L1665.0 978.9 L1677.0 980.8 L1689.0 976.7 L1701.0 966.9 L1713.0 960.9 L1725.0 958.8 L1737.0 982.9 L1749.0 984.8 L1761.0 976.7 L1773.0 988.9 L1785.0 1000.9 L1797.0 999.0 L1809.0 1003.0 L1821.0 1003.0 L1833.0 1021.0 L1845.0 1032.9 L1857.0 1027.0 L1869.0 1018.8 L1881.0 1022.9 L1893.0 1015.0 L1905.0 1010.9 L1917.0 1015.0 L1929.0 1009.0 L1941.0 1006.8 L1953.0 1000.9 L1965.0 1012.8 L1977.0 1024.8 L1989.0 1028.9 L2001.0 1032.9 L2013.0 1030.8 L2025.0 1031.2 L2037.0 1015.3 L2049.0 1015.3 L2061.0 1012.8 L2073.0 1002.9 L2085.0 1002.9 L2097.0 994.8 L2109.0 998.7 L2121.0 998.7 L2133.0 996.6 L2145.0 992.7 L2157.0 996.9 L2169.0 1012.8 L2181.0 1012.8 L2193.0 1014.9 L2205.0 1024.9 L2217.0 1020.7 L2229.0 1022.8 L2241.0 1024.9 L2253.0 1018.9 L2265.0 1010.7 L2277.0 998.7 L2289.0 1004.7 L2301.0 1016.8 L2313.0 1016.8 L2325.0 1039.0 L2337.0 1028.8 L2349.0 1030.9 L2361.0 1026.7 L2373.0 1000.8 L2385.0 1000.8 L2397.0 981.2 L2409.0 981.2 L2421.0 981.2 L2433.0 984.8 L2445.0 986.6 L2457.0 976.7 L2469.0 1000.8 L2481.0 1008.9 L2493.0 1016.8 L2505.0 1024.9 L2517.0 1014.9 L2529.0 1018.9 L2541.0 1016.8 L2553.0 1016.8 L2565.0 1021.0 L2577.0 1033.0 L2589.0 1040.9 L2601.0 1040.9 L2613.0 1043.0 L2625.0 1046.9 L2637.0 1045.1 L2649.0 1045.1 L2661.0 1046.9 L2673.0 1046.9 L2685.0 1046.9 L2685 1040.7 L69 1040.7 Z" fill="#86cff0" clip-path="url(#os)"/>
<line x1="70" y1="968.7" x2="2690" y2="968.7" stroke="#c77ee0" stroke-width="2.4"/>
<line x1="70" y1="1040.7" x2="2690" y2="1040.7" stroke="#4eb4e6" stroke-width="2.4"/>
<path d="M69.0 1028.6 L81.0 1023.0 L93.0 1028.6 L105.0 1028.6 L117.0 1013.0 L129.0 1020.7 L141.0 1023.0 L153.0 1024.9 L165.0 1028.6 L177.0 1024.9 L189.0 1013.0 L201.0 1000.5 L213.0 1002.5 L225.0 1002.5 L237.0 1015.0 L249.0 1020.7 L261.0 1026.7 L273.0 1020.7 L285.0 1018.7 L297.0 1018.7 L309.0 1013.0 L321.0 1013.0 L333.0 1026.7 L345.0 1018.7 L357.0 1016.7 L369.0 1016.7 L381.0 1016.7 L393.0 1028.6 L405.0 1024.9 L417.0 1024.9 L429.0 1020.7 L441.0 1038.6 L453.0 1026.7 L465.0 1036.6 L477.0 1042.8 L489.0 1023.0 L501.0 1030.9 L513.0 1028.6 L525.0 1026.7 L537.0 1028.6 L549.0 1032.9 L561.0 1024.9 L573.0 1028.6 L585.0 1013.0 L597.0 1015.0 L609.0 1008.8 L621.0 1013.0 L633.0 1010.8 L645.0 1013.0 L657.0 1008.8 L669.0 1011.2 L681.0 1003.0 L693.0 1006.8 L705.0 1016.9 L717.0 1010.9 L729.0 1004.9 L741.0 1006.8 L753.0 994.9 L765.0 994.9 L777.0 1009.0 L789.0 1003.0 L801.0 996.8 L813.0 1000.9 L825.0 1006.8 L837.0 1018.8 L849.0 1021.0 L861.0 1021.0 L873.0 1009.0 L885.0 1016.9 L897.0 1015.0 L909.0 1015.0 L921.0 1018.8 L933.0 1010.9 L945.0 996.8 L957.0 996.8 L969.0 1004.9 L981.0 996.8 L993.0 986.7 L1005.0 994.9 L1017.0 993.0 L1029.0 1006.8 L1041.0 1003.0 L1053.0 1018.8 L1065.0 1022.9 L1077.0 1010.9 L1089.0 999.0 L1101.0 994.9 L1113.0 1000.9 L1125.0 1000.9 L1137.0 1000.9 L1149.0 999.0 L1161.0 982.9 L1173.0 984.8 L1185.0 1004.9 L1197.0 1006.8 L1209.0 1003.0 L1221.0 988.9 L1233.0 984.8 L1245.0 994.9 L1257.0 999.0 L1269.0 1015.0 L1281.0 1009.0 L1293.0 1009.0 L1305.0 1009.0 L1317.0 1009.0 L1329.0 982.9 L1341.0 986.7 L1353.0 999.0 L1365.0 994.9 L1377.0 993.0 L1389.0 993.0 L1401.0 1004.9 L1413.0 1006.8 L1425.0 994.9 L1437.0 986.7 L1449.0 984.8 L1461.0 986.7 L1473.0 986.7 L1485.0 982.9 L1497.0 984.8 L1509.0 974.8 L1521.0 962.8 L1533.0 965.0 L1545.0 960.9 L1557.0 965.0 L1569.0 958.8 L1581.0 976.7 L1593.0 980.8 L1605.0 968.8 L1617.0 972.9 L1629.0 978.9 L1641.0 978.9 L1653.0 978.9 L1665.0 978.9 L1677.0 980.8 L1689.0 976.7 L1701.0 966.9 L1713.0 960.9 L1725.0 958.8 L1737.0 982.9 L1749.0 984.8 L1761.0 976.7 L1773.0 988.9 L1785.0 1000.9 L1797.0 999.0 L1809.0 1003.0 L1821.0 1003.0 L1833.0 1021.0 L1845.0 1032.9 L1857.0 1027.0 L1869.0 1018.8 L1881.0 1022.9 L1893.0 1015.0 L1905.0 1010.9 L1917.0 1015.0 L1929.0 1009.0 L1941.0 1006.8 L1953.0 1000.9 L1965.0 1012.8 L1977.0 1024.8 L1989.0 1028.9 L2001.0 1032.9 L2013.0 1030.8 L2025.0 1031.2 L2037.0 1015.3 L2049.0 1015.3 L2061.0 1012.8 L2073.0 1002.9 L2085.0 1002.9 L2097.0 994.8 L2109.0 998.7 L2121.0 998.7 L2133.0 996.6 L2145.0 992.7 L2157.0 996.9 L2169.0 1012.8 L2181.0 1012.8 L2193.0 1014.9 L2205.0 1024.9 L2217.0 1020.7 L2229.0 1022.8 L2241.0 1024.9 L2253.0 1018.9 L2265.0 1010.7 L2277.0 998.7 L2289.0 1004.7 L2301.0 1016.8 L2313.0 1016.8 L2325.0 1039.0 L2337.0 1028.8 L2349.0 1030.9 L2361.0 1026.7 L2373.0 1000.8 L2385.0 1000.8 L2397.0 981.2 L2409.0 981.2 L2421.0 981.2 L2433.0 984.8 L2445.0 986.6 L2457.0 976.7 L2469.0 1000.8 L2481.0 1008.9 L2493.0 1016.8 L2505.0 1024.9 L2517.0 1014.9 L2529.0 1018.9 L2541.0 1016.8 L2553.0 1016.8 L2565.0 1021.0 L2577.0 1033.0 L2589.0 1040.9 L2601.0 1040.9 L2613.0 1043.0 L2625.0 1046.9 L2637.0 1045.1 L2649.0 1045.1 L2661.0 1046.9 L2673.0 1046.9 L2685.0 1046.9" fill="none" stroke="#000" stroke-width="2.4" stroke-linejoin="round"/>
</g>
<text transform="translate(2706.81 1100.10) scale(0.9500 1)" style="font-family:'Liberation Sans'" font-size="21.20" fill="#787878" >0</text>
<text transform="translate(2706.59 1064.06) scale(0.9500 1)" style="font-family:'Liberation Sans'" font-size="21.20" fill="#787878" >20</text>
<text transform="translate(2707.14 1028.02) scale(0.9500 1)" style="font-family:'Liberation Sans'" font-size="21.20" fill="#787878" >40</text>
<text transform="translate(2706.57 991.98) scale(0.9500 1)" style="font-family:'Liberation Sans'" font-size="21.20" fill="#787878" >60</text>
<text transform="translate(2706.73 955.94) scale(0.9500 1)" style="font-family:'Liberation Sans'" font-size="21.20" fill="#787878" >80</text>
<text transform="translate(2706.47 919.90) scale(0.9500 1)" style="font-family:'Liberation Sans'" font-size="21.20" fill="#787878" >100</text>
<rect x="2702" y="1032" width="59.8" height="23.9" fill="#4a5168"/>
<text transform="translate(2704.90 1052.00) scale(1.0101 1)" style="font-family:'Liberation Sans'" font-size="21.78" fill="#ffffff" >26.99</text>
<rect x="12.2" y="896" width="111.2" height="49.5" rx="9" fill="#f3f3f5"/>
<rect x="142" y="902" width="88" height="38" fill="#fff"/>
<text transform="translate(23.20 930.70) scale(0.9496 1)" style="font-family:'Liberation Sans'" font-size="28.22" font-weight="bold" fill="#1d2026" >RSI 14</text>
<text transform="translate(152.63 930.70) scale(0.9723 1)" style="font-family:'Liberation Sans'" font-size="28.22" fill="#1d2026" >26.99</text>
<text transform="translate(144.41 856.60) scale(1.0526 1)" style="font-family:'Liberation Sans'" font-size="21.37" fill="#7a7a7a" >Mar</text>
<text transform="translate(399.17 856.60) scale(1.0526 1)" style="font-family:'Liberation Sans'" font-size="21.37" fill="#7a7a7a" >Apr</text>
<text transform="translate(646.36 856.60) scale(1.0526 1)" style="font-family:'Liberation Sans'" font-size="21.37" fill="#7a7a7a" >May</text>
<text transform="translate(902.92 856.60) scale(1.0526 1)" style="font-family:'Liberation Sans'" font-size="21.37" fill="#7a7a7a" >Jun</text>
<text transform="translate(1146.70 856.60) scale(1.0526 1)" style="font-family:'Liberation Sans'" font-size="21.37" fill="#7a7a7a" >Jul</text>
<text transform="translate(1405.19 856.60) scale(1.0526 1)" style="font-family:'Liberation Sans'" font-size="21.37" fill="#7a7a7a" >Aug</text>
<text transform="translate(1656.45 856.60) scale(1.0526 1)" style="font-family:'Liberation Sans'" font-size="21.37" fill="#7a7a7a" >Sep</text>
<text transform="translate(1910.55 856.60) scale(1.0526 1)" style="font-family:'Liberation Sans'" font-size="21.37" fill="#7a7a7a" >Oct</text>
<text transform="translate(2183.63 856.60) scale(1.0526 1)" style="font-family:'Liberation Sans'" font-size="21.37" fill="#7a7a7a" >Nov</text>
<text transform="translate(2411.88 856.60) scale(1.0526 1)" style="font-family:'Liberation Sans'" font-size="21.37" fill="#7a7a7a" >Dec</text>
</svg></body></html>
